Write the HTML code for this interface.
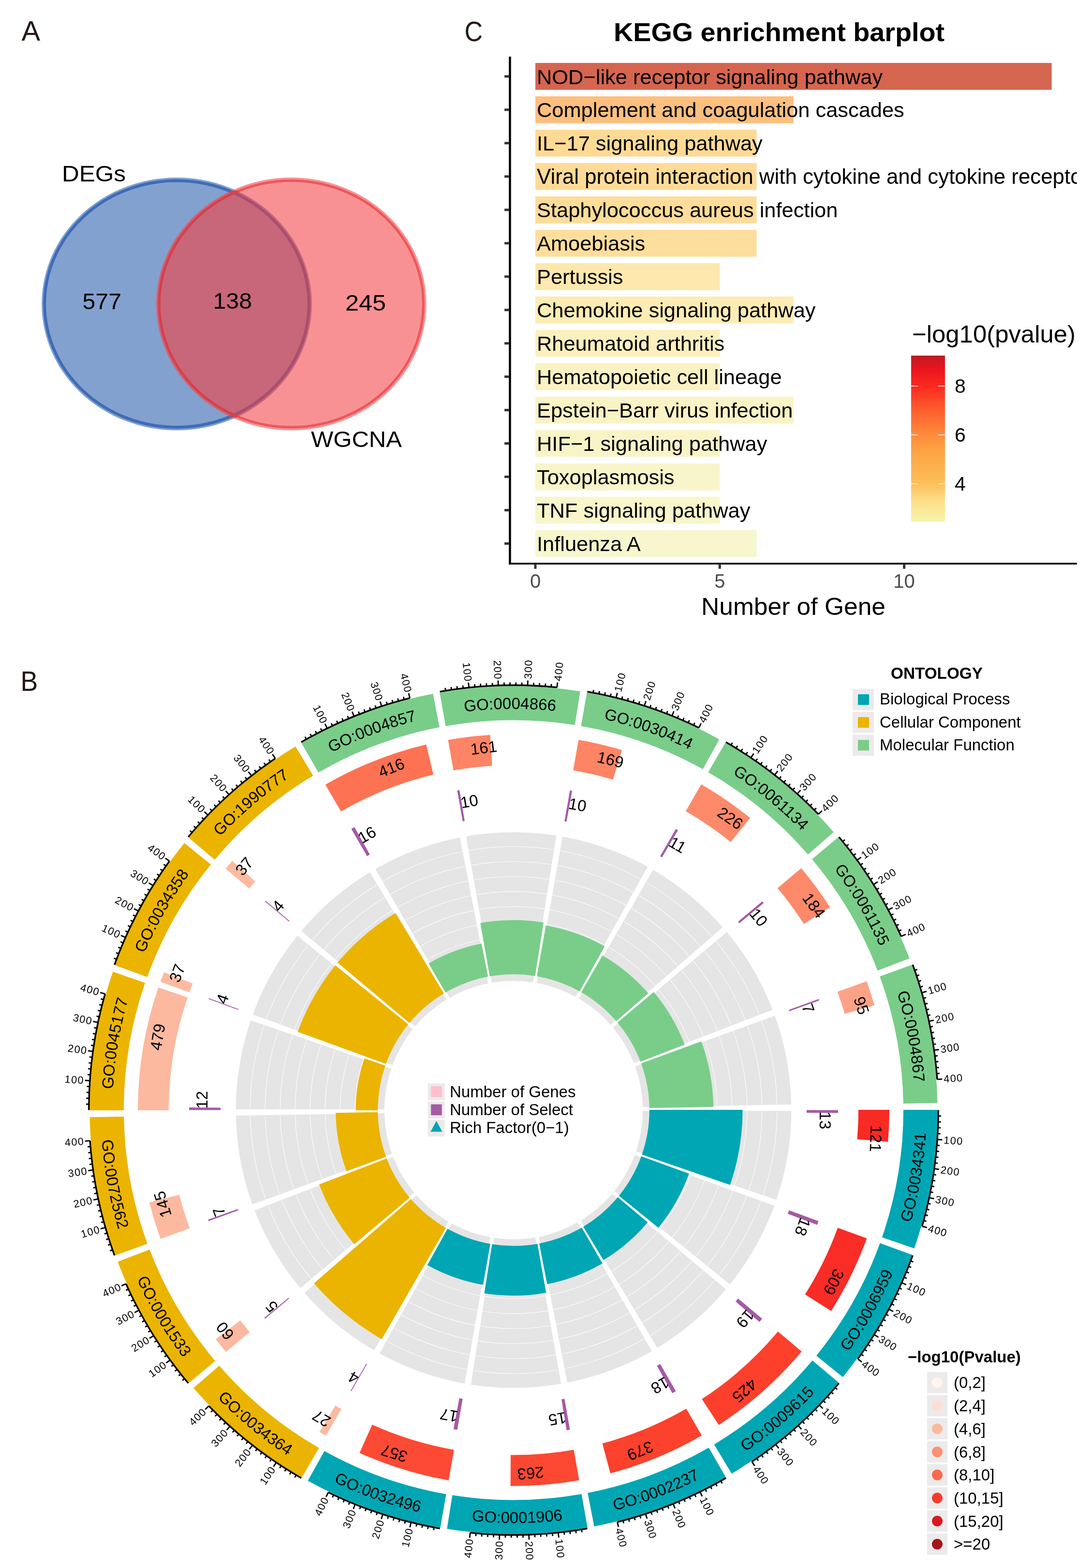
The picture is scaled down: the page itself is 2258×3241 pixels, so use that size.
<!DOCTYPE html><html><head><meta charset="utf-8"><title>Figure</title><style>html,body{margin:0;padding:0;background:#fff;}svg{display:block;}</style></head><body><svg width="2258" height="3241" viewBox="0 0 2258 3241" font-family="'Liberation Sans', Arial, Helvetica, sans-serif"><defs><path id="go0" d="M1808.66,2708.38 A853.70,853.70 0 0 0 1902.73,2146.26" fill="none"/><path id="go1" d="M1622.08,2938.80 A853.70,853.70 0 0 0 1902.73,2442.74" fill="none"/><path id="go2" d="M1367.94,3091.50 A853.70,853.70 0 0 0 1801.33,2721.35" fill="none"/><path id="go3" d="M1076.90,3148.07 A853.70,853.70 0 0 0 1610.75,2948.47" fill="none"/><path id="go4" d="M784.06,3101.69 A853.70,853.70 0 0 0 1353.98,3096.72" fill="none"/><path id="go5" d="M524.75,2957.95 A853.70,853.70 0 0 0 1062.00,3148.20" fill="none"/><path id="go6" d="M330.24,2734.19 A853.70,853.70 0 0 0 770.02,3096.72" fill="none"/><path id="go7" d="M223.98,2457.39 A853.70,853.70 0 0 0 513.25,2948.47" fill="none"/><path id="go8" d="M218.81,2160.95 A853.70,853.70 0 0 0 322.67,2721.35" fill="none"/><path id="go9" d="M245.30,2438.51 A829.30,829.30 0 0 1 336.68,1892.45" fill="none"/><path id="go10" d="M245.30,2150.49 A829.30,829.30 0 0 1 517.93,1668.62" fill="none"/><path id="go11" d="M343.81,1879.85 A829.30,829.30 0 0 1 764.81,1520.28" fill="none"/><path id="go12" d="M528.94,1659.22 A829.30,829.30 0 0 1 1047.53,1465.33" fill="none"/><path id="go13" d="M778.36,1515.21 A829.30,829.30 0 0 1 1331.99,1510.38" fill="none"/><path id="go14" d="M1062.00,1465.20 A829.30,829.30 0 0 1 1583.90,1650.01" fill="none"/><path id="go15" d="M1345.64,1515.21 A829.30,829.30 0 0 1 1772.85,1867.38" fill="none"/><path id="go16" d="M1595.06,1659.22 A829.30,829.30 0 0 1 1876.06,2136.26" fill="none"/><path id="go17" d="M1780.19,1879.85 A829.30,829.30 0 0 1 1881.09,2424.23" fill="none"/><clipPath id="cB"><ellipse cx="365.5" cy="628.25" rx="279.3" ry="261.25"/></clipPath><clipPath id="cR"><ellipse cx="602.3" cy="628.25" rx="279.3" ry="261.25"/></clipPath><clipPath id="kclip"><rect x="1057" y="100" width="1169.8" height="1063"/></clipPath><linearGradient id="cbar" x1="0" y1="1" x2="0" y2="0"><stop offset="0" stop-color="#F6F5AA"/><stop offset="0.12" stop-color="#FCE08B"/><stop offset="0.227" stop-color="#FDC05A"/><stop offset="0.42" stop-color="#FDA444"/><stop offset="0.52" stop-color="#FD8C3C"/><stop offset="0.67" stop-color="#FE5E2E"/><stop offset="0.815" stop-color="#FC2A1F"/><stop offset="0.92" stop-color="#E9141E"/><stop offset="1" stop-color="#BD1A25"/></linearGradient></defs><rect width="2258" height="3241" fill="#fff"/><ellipse cx="365.5" cy="628.25" rx="279.3" ry="261.25" fill="#83A1CF"/><ellipse cx="365.5" cy="628.25" rx="273.3" ry="254.75" fill="none" stroke="#3E6CB8" stroke-width="6"/><ellipse cx="602.3" cy="628.25" rx="279.3" ry="261.25" fill="#F89194"/><g clip-path="url(#cB)"><ellipse cx="602.3" cy="628.25" rx="279.3" ry="261.25" fill="#C8667A"/><ellipse cx="365.5" cy="628.25" rx="273.3" ry="254.75" fill="none" stroke="#AA4E6E" stroke-width="6" clip-path="url(#cR)"/></g><ellipse cx="602.3" cy="628.25" rx="273.1" ry="254.75" fill="none" stroke="#EC575A" stroke-width="5"/><g clip-path="url(#cB)"><ellipse cx="602.3" cy="628.25" rx="273.1" ry="254.75" fill="none" stroke="#D6404A" stroke-width="5"/></g><text x="170.5" y="638.75" font-size="46" textLength="80.5" lengthAdjust="spacingAndGlyphs">577</text><text x="440.5" y="637.5" font-size="46" textLength="80.5" lengthAdjust="spacingAndGlyphs">138</text><text x="714" y="641.9" font-size="46" textLength="84" lengthAdjust="spacingAndGlyphs">245</text><text x="128" y="375" font-size="46" textLength="132" lengthAdjust="spacingAndGlyphs">DEGs</text><text x="643" y="923.75" font-size="46" textLength="188" lengthAdjust="spacingAndGlyphs">WGCNA</text><g clip-path="url(#kclip)"><rect x="1107.0" y="130.10" width="1067.64" height="55.6" fill="#D6654F"/><rect x="1107.0" y="199.07" width="533.82" height="55.6" fill="#FDBF7E"/><rect x="1107.0" y="268.04" width="457.56" height="55.6" fill="#FEDA95"/><rect x="1107.0" y="337.01" width="457.56" height="55.6" fill="#FEDB97"/><rect x="1107.0" y="405.98" width="457.56" height="55.6" fill="#FEDC99"/><rect x="1107.0" y="474.95" width="457.56" height="55.6" fill="#FEDE9C"/><rect x="1107.0" y="543.92" width="381.30" height="55.6" fill="#FEE8AD"/><rect x="1107.0" y="612.89" width="533.82" height="55.6" fill="#FDECB4"/><rect x="1107.0" y="681.86" width="381.30" height="55.6" fill="#FCF0BE"/><rect x="1107.0" y="750.83" width="381.30" height="55.6" fill="#FAF2C3"/><rect x="1107.0" y="819.80" width="533.82" height="55.6" fill="#FAF3C6"/><rect x="1107.0" y="888.77" width="381.30" height="55.6" fill="#F9F4C8"/><rect x="1107.0" y="957.74" width="381.30" height="55.6" fill="#F8F5CA"/><rect x="1107.0" y="1026.71" width="381.30" height="55.6" fill="#F8F6CA"/><rect x="1107.0" y="1095.68" width="457.56" height="55.6" fill="#F7F6CD"/><text x="1110" y="173.50" font-size="43.4">NOD−like receptor signaling pathway</text><text x="1110" y="242.47" font-size="43.4">Complement and coagulation cascades</text><text x="1110" y="311.44" font-size="43.4">IL−17 signaling pathway</text><text x="1110" y="380.41" font-size="43.85">Viral protein interaction with cytokine and cytokine receptor</text><text x="1110" y="449.38" font-size="43.4">Staphylococcus aureus infection</text><text x="1110" y="518.35" font-size="43.4">Amoebiasis</text><text x="1110" y="587.32" font-size="43.4">Pertussis</text><text x="1110" y="656.29" font-size="43.4">Chemokine signaling pathway</text><text x="1110" y="725.26" font-size="43.4">Rheumatoid arthritis</text><text x="1110" y="794.23" font-size="43.4">Hematopoietic cell lineage</text><text x="1110" y="863.20" font-size="43.4">Epstein−Barr virus infection</text><text x="1110" y="932.17" font-size="43.4">HIF−1 signaling pathway</text><text x="1110" y="1001.14" font-size="43.4">Toxoplasmosis</text><text x="1110" y="1070.11" font-size="43.4">TNF signaling pathway</text><text x="1110" y="1139.08" font-size="43.4">Influenza A</text></g><line x1="1054.45" y1="116.9" x2="1054.45" y2="1166.7" stroke="#000" stroke-width="4.5"/><line x1="1052.2" y1="1165" x2="2226.8" y2="1165" stroke="#000" stroke-width="3.5"/><line x1="1043.1" y1="157.90" x2="1052.2" y2="157.90" stroke="#333" stroke-width="5"/><line x1="1043.1" y1="226.87" x2="1052.2" y2="226.87" stroke="#333" stroke-width="5"/><line x1="1043.1" y1="295.84" x2="1052.2" y2="295.84" stroke="#333" stroke-width="5"/><line x1="1043.1" y1="364.81" x2="1052.2" y2="364.81" stroke="#333" stroke-width="5"/><line x1="1043.1" y1="433.78" x2="1052.2" y2="433.78" stroke="#333" stroke-width="5"/><line x1="1043.1" y1="502.75" x2="1052.2" y2="502.75" stroke="#333" stroke-width="5"/><line x1="1043.1" y1="571.72" x2="1052.2" y2="571.72" stroke="#333" stroke-width="5"/><line x1="1043.1" y1="640.69" x2="1052.2" y2="640.69" stroke="#333" stroke-width="5"/><line x1="1043.1" y1="709.66" x2="1052.2" y2="709.66" stroke="#333" stroke-width="5"/><line x1="1043.1" y1="778.63" x2="1052.2" y2="778.63" stroke="#333" stroke-width="5"/><line x1="1043.1" y1="847.60" x2="1052.2" y2="847.60" stroke="#333" stroke-width="5"/><line x1="1043.1" y1="916.57" x2="1052.2" y2="916.57" stroke="#333" stroke-width="5"/><line x1="1043.1" y1="985.54" x2="1052.2" y2="985.54" stroke="#333" stroke-width="5"/><line x1="1043.1" y1="1054.51" x2="1052.2" y2="1054.51" stroke="#333" stroke-width="5"/><line x1="1043.1" y1="1123.48" x2="1052.2" y2="1123.48" stroke="#333" stroke-width="5"/><line x1="1107.00" y1="1166.7" x2="1107.00" y2="1175.7" stroke="#333" stroke-width="5"/><text x="1107.00" y="1215" font-size="40" fill="#4D4D4D" text-anchor="middle">0</text><line x1="1488.30" y1="1166.7" x2="1488.30" y2="1175.7" stroke="#333" stroke-width="5"/><text x="1488.30" y="1215" font-size="40" fill="#4D4D4D" text-anchor="middle">5</text><line x1="1869.60" y1="1166.7" x2="1869.60" y2="1175.7" stroke="#333" stroke-width="5"/><text x="1869.60" y="1215" font-size="40" fill="#4D4D4D" text-anchor="middle">10</text><text x="1450" y="1271.4" font-size="50" textLength="381" lengthAdjust="spacingAndGlyphs">Number of Gene</text><text x="1269" y="84.8" font-size="54.5" font-weight="bold" textLength="684" lengthAdjust="spacingAndGlyphs">KEGG enrichment barplot</text><rect x="1884" y="735" width="70" height="343.7" fill="url(#cbar)"/><line x1="1884" y1="797.8" x2="1898" y2="797.8" stroke="#fff" stroke-width="1.5"/><line x1="1940" y1="797.8" x2="1954" y2="797.8" stroke="#fff" stroke-width="1.5"/><text x="1974" y="812.10" font-size="41">8</text><line x1="1884" y1="898.7" x2="1898" y2="898.7" stroke="#fff" stroke-width="1.5"/><line x1="1940" y1="898.7" x2="1954" y2="898.7" stroke="#fff" stroke-width="1.5"/><text x="1974" y="913.00" font-size="41">6</text><line x1="1884" y1="999.8" x2="1898" y2="999.8" stroke="#fff" stroke-width="1.5"/><line x1="1940" y1="999.8" x2="1954" y2="999.8" stroke="#fff" stroke-width="1.5"/><text x="1974" y="1014.10" font-size="41">4</text><text x="1886" y="708.4" font-size="50.5" textLength="338" lengthAdjust="spacingAndGlyphs">−log10(pvalue)</text><path d="M1937.90,2294.50 A875.90,875.90 0 0 1 1890.18,2579.67 L1824.66,2557.10 A806.60,806.60 0 0 0 1868.60,2294.50 Z" fill="#00A6B3" stroke="#00A6B3" stroke-width="1.2"/><path d="M1885.08,2594.08 A875.90,875.90 0 0 1 1742.70,2845.72 L1688.85,2802.11 A806.60,806.60 0 0 0 1819.96,2570.37 Z" fill="#00A6B3" stroke="#00A6B3" stroke-width="1.2"/><path d="M1732.98,2857.52 A875.90,875.90 0 0 1 1513.12,3045.29 L1477.43,2985.89 A806.60,806.60 0 0 0 1679.89,2812.97 Z" fill="#00A6B3" stroke="#00A6B3" stroke-width="1.2"/><path d="M1499.95,3053.05 A875.90,875.90 0 0 1 1229.13,3154.31 L1215.91,3086.28 A806.60,806.60 0 0 0 1465.30,2993.04 Z" fill="#00A6B3" stroke="#00A6B3" stroke-width="1.2"/><path d="M1214.10,3157.09 A875.90,875.90 0 0 1 924.98,3159.62 L935.82,3091.17 A806.60,806.60 0 0 0 1202.06,3088.85 Z" fill="#00A6B3" stroke="#00A6B3" stroke-width="1.2"/><path d="M909.90,3157.09 A875.90,875.90 0 0 1 637.36,3060.58 L670.95,2999.97 A806.60,806.60 0 0 0 921.94,3088.85 Z" fill="#00A6B3" stroke="#00A6B3" stroke-width="1.2"/><path d="M624.05,3053.05 A875.90,875.90 0 0 1 400.95,2869.14 L453.25,2823.68 A806.60,806.60 0 0 0 658.70,2993.04 Z" fill="#EBB400" stroke="#EBB400" stroke-width="1.2"/><path d="M391.02,2857.52 A875.90,875.90 0 0 1 244.28,2608.39 L308.97,2583.56 A806.60,806.60 0 0 0 444.11,2812.97 Z" fill="#EBB400" stroke="#EBB400" stroke-width="1.2"/><path d="M238.92,2594.08 A875.90,875.90 0 0 1 186.23,2309.79 L255.52,2308.58 A806.60,806.60 0 0 0 304.04,2570.37 Z" fill="#EBB400" stroke="#EBB400" stroke-width="1.2"/><path d="M186.10,2294.50 A875.90,875.90 0 0 1 233.82,2009.33 L299.34,2031.90 A806.60,806.60 0 0 0 255.40,2294.50 Z" fill="#EBB400" stroke="#EBB400" stroke-width="1.2"/><path d="M238.92,1994.92 A875.90,875.90 0 0 1 381.30,1743.28 L435.15,1786.89 A806.60,806.60 0 0 0 304.04,2018.63 Z" fill="#EBB400" stroke="#EBB400" stroke-width="1.2"/><path d="M391.02,1731.48 A875.90,875.90 0 0 1 610.88,1543.71 L646.57,1603.11 A806.60,806.60 0 0 0 444.11,1776.03 Z" fill="#EBB400" stroke="#EBB400" stroke-width="1.2"/><path d="M624.05,1535.95 A875.90,875.90 0 0 1 894.87,1434.69 L908.09,1502.72 A806.60,806.60 0 0 0 658.70,1595.96 Z" fill="#79CD89" stroke="#79CD89" stroke-width="1.2"/><path d="M909.90,1431.91 A875.90,875.90 0 0 1 1199.02,1429.38 L1188.18,1497.83 A806.60,806.60 0 0 0 921.94,1500.15 Z" fill="#79CD89" stroke="#79CD89" stroke-width="1.2"/><path d="M1214.10,1431.91 A875.90,875.90 0 0 1 1486.64,1528.42 L1453.05,1589.03 A806.60,806.60 0 0 0 1202.06,1500.15 Z" fill="#79CD89" stroke="#79CD89" stroke-width="1.2"/><path d="M1499.95,1535.95 A875.90,875.90 0 0 1 1723.05,1719.86 L1670.75,1765.32 A806.60,806.60 0 0 0 1465.30,1595.96 Z" fill="#79CD89" stroke="#79CD89" stroke-width="1.2"/><path d="M1732.98,1731.48 A875.90,875.90 0 0 1 1879.72,1980.61 L1815.03,2005.44 A806.60,806.60 0 0 0 1679.89,1776.03 Z" fill="#79CD89" stroke="#79CD89" stroke-width="1.2"/><path d="M1885.08,1994.92 A875.90,875.90 0 0 1 1937.77,2279.21 L1868.48,2280.42 A806.60,806.60 0 0 0 1819.96,2018.63 Z" fill="#79CD89" stroke="#79CD89" stroke-width="1.2"/><path d="M1940.20,2294.50 A878.20,878.20 0 0 1 1906.74,2534.60" fill="none" stroke="#000" stroke-width="3.4"/><line x1="1940.12" y1="2306.66" x2="1945.92" y2="2306.74" stroke="#000" stroke-width="2.8"/><line x1="1939.86" y1="2318.82" x2="1945.66" y2="2318.98" stroke="#000" stroke-width="2.8"/><line x1="1939.44" y1="2330.97" x2="1945.24" y2="2331.21" stroke="#000" stroke-width="2.8"/><line x1="1938.85" y1="2343.11" x2="1944.64" y2="2343.43" stroke="#000" stroke-width="2.8"/><line x1="1938.10" y1="2355.25" x2="1948.37" y2="2355.96" stroke="#000" stroke-width="2.8"/><line x1="1937.17" y1="2367.37" x2="1942.95" y2="2367.85" stroke="#000" stroke-width="2.8"/><line x1="1936.08" y1="2379.48" x2="1941.85" y2="2380.05" stroke="#000" stroke-width="2.8"/><line x1="1934.82" y1="2391.58" x2="1940.58" y2="2392.22" stroke="#000" stroke-width="2.8"/><line x1="1933.39" y1="2403.65" x2="1939.15" y2="2404.37" stroke="#000" stroke-width="2.8"/><line x1="1931.80" y1="2415.71" x2="1942.00" y2="2417.13" stroke="#000" stroke-width="2.8"/><line x1="1930.03" y1="2427.74" x2="1935.77" y2="2428.62" stroke="#000" stroke-width="2.8"/><line x1="1928.11" y1="2439.74" x2="1933.83" y2="2440.70" stroke="#000" stroke-width="2.8"/><line x1="1926.01" y1="2451.72" x2="1931.72" y2="2452.76" stroke="#000" stroke-width="2.8"/><line x1="1923.75" y1="2463.67" x2="1929.44" y2="2464.79" stroke="#000" stroke-width="2.8"/><line x1="1921.33" y1="2475.59" x2="1931.41" y2="2477.71" stroke="#000" stroke-width="2.8"/><line x1="1918.74" y1="2487.47" x2="1924.40" y2="2488.74" stroke="#000" stroke-width="2.8"/><line x1="1915.98" y1="2499.31" x2="1921.62" y2="2500.66" stroke="#000" stroke-width="2.8"/><line x1="1913.07" y1="2511.11" x2="1918.69" y2="2512.54" stroke="#000" stroke-width="2.8"/><line x1="1909.99" y1="2522.88" x2="1915.59" y2="2524.38" stroke="#000" stroke-width="2.8"/><line x1="1906.74" y1="2534.60" x2="1916.65" y2="2537.41" stroke="#000" stroke-width="2.8"/><text transform="translate(1951.36,2356.17) rotate(3.97)" x="0" y="7.59" text-anchor="start" font-size="21.7" textLength="39" lengthAdjust="spacing">100</text><text transform="translate(1944.97,2417.54) rotate(7.93)" x="0" y="7.59" text-anchor="start" font-size="21.7" textLength="39" lengthAdjust="spacing">200</text><text transform="translate(1934.34,2478.33) rotate(11.90)" x="0" y="7.59" text-anchor="start" font-size="21.7" textLength="39" lengthAdjust="spacing">300</text><text transform="translate(1919.54,2538.23) rotate(15.87)" x="0" y="7.59" text-anchor="start" font-size="21.7" textLength="39" lengthAdjust="spacing">400</text><path d="M1887.24,2594.86 A878.20,878.20 0 0 1 1773.68,2809.03" fill="none" stroke="#000" stroke-width="3.4"/><line x1="1883.00" y1="2606.26" x2="1888.42" y2="2608.32" stroke="#000" stroke-width="2.8"/><line x1="1878.61" y1="2617.60" x2="1884.00" y2="2619.73" stroke="#000" stroke-width="2.8"/><line x1="1874.05" y1="2628.87" x2="1879.42" y2="2631.08" stroke="#000" stroke-width="2.8"/><line x1="1869.35" y1="2640.08" x2="1874.68" y2="2642.37" stroke="#000" stroke-width="2.8"/><line x1="1864.48" y1="2651.23" x2="1873.90" y2="2655.41" stroke="#000" stroke-width="2.8"/><line x1="1859.47" y1="2662.31" x2="1864.73" y2="2664.73" stroke="#000" stroke-width="2.8"/><line x1="1854.30" y1="2673.31" x2="1859.53" y2="2675.81" stroke="#000" stroke-width="2.8"/><line x1="1848.98" y1="2684.24" x2="1854.18" y2="2686.82" stroke="#000" stroke-width="2.8"/><line x1="1843.51" y1="2695.10" x2="1848.67" y2="2697.75" stroke="#000" stroke-width="2.8"/><line x1="1837.88" y1="2705.89" x2="1846.98" y2="2710.71" stroke="#000" stroke-width="2.8"/><line x1="1832.11" y1="2716.59" x2="1837.20" y2="2719.38" stroke="#000" stroke-width="2.8"/><line x1="1826.20" y1="2727.21" x2="1831.24" y2="2730.07" stroke="#000" stroke-width="2.8"/><line x1="1820.13" y1="2737.75" x2="1825.14" y2="2740.68" stroke="#000" stroke-width="2.8"/><line x1="1813.92" y1="2748.20" x2="1818.89" y2="2751.20" stroke="#000" stroke-width="2.8"/><line x1="1807.57" y1="2758.57" x2="1816.31" y2="2764.01" stroke="#000" stroke-width="2.8"/><line x1="1801.07" y1="2768.85" x2="1805.95" y2="2771.98" stroke="#000" stroke-width="2.8"/><line x1="1794.43" y1="2779.04" x2="1799.27" y2="2782.24" stroke="#000" stroke-width="2.8"/><line x1="1787.65" y1="2789.13" x2="1792.45" y2="2792.40" stroke="#000" stroke-width="2.8"/><line x1="1780.74" y1="2799.13" x2="1785.48" y2="2802.46" stroke="#000" stroke-width="2.8"/><line x1="1773.68" y1="2809.03" x2="1782.03" y2="2815.07" stroke="#000" stroke-width="2.8"/><text transform="translate(1876.64,2656.63) rotate(23.97)" x="0" y="7.59" text-anchor="start" font-size="21.7" textLength="39" lengthAdjust="spacing">100</text><text transform="translate(1849.64,2712.12) rotate(27.93)" x="0" y="7.59" text-anchor="start" font-size="21.7" textLength="39" lengthAdjust="spacing">200</text><text transform="translate(1818.86,2765.60) rotate(31.90)" x="0" y="7.59" text-anchor="start" font-size="21.7" textLength="39" lengthAdjust="spacing">300</text><text transform="translate(1784.46,2816.83) rotate(35.87)" x="0" y="7.59" text-anchor="start" font-size="21.7" textLength="39" lengthAdjust="spacing">400</text><path d="M1734.74,2859.00 A878.20,878.20 0 0 1 1554.78,3021.41" fill="none" stroke="#000" stroke-width="3.4"/><line x1="1726.86" y1="2868.26" x2="1731.25" y2="2872.05" stroke="#000" stroke-width="2.8"/><line x1="1718.85" y1="2877.41" x2="1723.19" y2="2881.26" stroke="#000" stroke-width="2.8"/><line x1="1710.72" y1="2886.45" x2="1715.00" y2="2890.35" stroke="#000" stroke-width="2.8"/><line x1="1702.46" y1="2895.37" x2="1706.69" y2="2899.34" stroke="#000" stroke-width="2.8"/><line x1="1694.08" y1="2904.18" x2="1701.49" y2="2911.33" stroke="#000" stroke-width="2.8"/><line x1="1685.58" y1="2912.87" x2="1689.70" y2="2916.96" stroke="#000" stroke-width="2.8"/><line x1="1676.96" y1="2921.45" x2="1681.02" y2="2925.59" stroke="#000" stroke-width="2.8"/><line x1="1668.22" y1="2929.90" x2="1672.22" y2="2934.10" stroke="#000" stroke-width="2.8"/><line x1="1659.36" y1="2938.24" x2="1663.31" y2="2942.49" stroke="#000" stroke-width="2.8"/><line x1="1650.39" y1="2946.44" x2="1657.29" y2="2954.09" stroke="#000" stroke-width="2.8"/><line x1="1641.31" y1="2954.53" x2="1645.13" y2="2958.89" stroke="#000" stroke-width="2.8"/><line x1="1632.11" y1="2962.49" x2="1635.88" y2="2966.90" stroke="#000" stroke-width="2.8"/><line x1="1622.81" y1="2970.32" x2="1626.51" y2="2974.78" stroke="#000" stroke-width="2.8"/><line x1="1613.40" y1="2978.02" x2="1617.04" y2="2982.53" stroke="#000" stroke-width="2.8"/><line x1="1603.88" y1="2985.58" x2="1610.24" y2="2993.69" stroke="#000" stroke-width="2.8"/><line x1="1594.26" y1="2993.02" x2="1597.78" y2="2997.63" stroke="#000" stroke-width="2.8"/><line x1="1584.54" y1="3000.32" x2="1587.99" y2="3004.98" stroke="#000" stroke-width="2.8"/><line x1="1574.72" y1="3007.49" x2="1578.10" y2="3012.20" stroke="#000" stroke-width="2.8"/><line x1="1564.80" y1="3014.52" x2="1568.12" y2="3019.28" stroke="#000" stroke-width="2.8"/><line x1="1554.78" y1="3021.41" x2="1560.56" y2="3029.94" stroke="#000" stroke-width="2.8"/><text transform="translate(1703.65,2913.41) rotate(43.97)" x="0" y="7.59" text-anchor="start" font-size="21.7" textLength="39" lengthAdjust="spacing">100</text><text transform="translate(1659.30,2956.32) rotate(47.93)" x="0" y="7.59" text-anchor="start" font-size="21.7" textLength="39" lengthAdjust="spacing">200</text><text transform="translate(1612.09,2996.05) rotate(51.90)" x="0" y="7.59" text-anchor="start" font-size="21.7" textLength="39" lengthAdjust="spacing">300</text><text transform="translate(1562.24,3032.42) rotate(55.87)" x="0" y="7.59" text-anchor="start" font-size="21.7" textLength="39" lengthAdjust="spacing">400</text><path d="M1501.10,3055.04 A878.20,878.20 0 0 1 1276.44,3146.12" fill="none" stroke="#000" stroke-width="3.4"/><line x1="1490.53" y1="3061.05" x2="1493.36" y2="3066.11" stroke="#000" stroke-width="2.8"/><line x1="1479.87" y1="3066.91" x2="1482.63" y2="3072.01" stroke="#000" stroke-width="2.8"/><line x1="1469.14" y1="3072.62" x2="1471.83" y2="3077.76" stroke="#000" stroke-width="2.8"/><line x1="1458.33" y1="3078.18" x2="1460.94" y2="3083.36" stroke="#000" stroke-width="2.8"/><line x1="1447.44" y1="3083.60" x2="1451.96" y2="3092.85" stroke="#000" stroke-width="2.8"/><line x1="1436.48" y1="3088.86" x2="1438.95" y2="3094.10" stroke="#000" stroke-width="2.8"/><line x1="1425.44" y1="3093.97" x2="1427.84" y2="3099.25" stroke="#000" stroke-width="2.8"/><line x1="1414.34" y1="3098.92" x2="1416.66" y2="3104.23" stroke="#000" stroke-width="2.8"/><line x1="1403.17" y1="3103.72" x2="1405.42" y2="3109.07" stroke="#000" stroke-width="2.8"/><line x1="1391.93" y1="3108.37" x2="1395.80" y2="3117.91" stroke="#000" stroke-width="2.8"/><line x1="1380.63" y1="3112.86" x2="1382.73" y2="3118.26" stroke="#000" stroke-width="2.8"/><line x1="1369.27" y1="3117.19" x2="1371.30" y2="3122.63" stroke="#000" stroke-width="2.8"/><line x1="1357.85" y1="3121.37" x2="1359.80" y2="3126.83" stroke="#000" stroke-width="2.8"/><line x1="1346.37" y1="3125.38" x2="1348.25" y2="3130.87" stroke="#000" stroke-width="2.8"/><line x1="1334.84" y1="3129.24" x2="1338.04" y2="3139.03" stroke="#000" stroke-width="2.8"/><line x1="1323.26" y1="3132.94" x2="1324.98" y2="3138.48" stroke="#000" stroke-width="2.8"/><line x1="1311.62" y1="3136.48" x2="1313.27" y2="3142.04" stroke="#000" stroke-width="2.8"/><line x1="1299.94" y1="3139.85" x2="1301.51" y2="3145.43" stroke="#000" stroke-width="2.8"/><line x1="1288.21" y1="3143.07" x2="1289.71" y2="3148.67" stroke="#000" stroke-width="2.8"/><line x1="1276.44" y1="3146.12" x2="1278.96" y2="3156.10" stroke="#000" stroke-width="2.8"/><text transform="translate(1453.27,3095.55) rotate(63.97)" x="0" y="7.59" text-anchor="start" font-size="21.7" textLength="39" lengthAdjust="spacing">100</text><text transform="translate(1396.93,3120.69) rotate(67.93)" x="0" y="7.59" text-anchor="start" font-size="21.7" textLength="39" lengthAdjust="spacing">200</text><text transform="translate(1338.97,3141.88) rotate(71.90)" x="0" y="7.59" text-anchor="start" font-size="21.7" textLength="39" lengthAdjust="spacing">300</text><text transform="translate(1279.69,3159.01) rotate(75.87)" x="0" y="7.59" text-anchor="start" font-size="21.7" textLength="39" lengthAdjust="spacing">400</text><path d="M1214.50,3159.36 A878.20,878.20 0 0 1 972.24,3168.10" fill="none" stroke="#000" stroke-width="3.4"/><line x1="1202.51" y1="3161.39" x2="1203.44" y2="3167.11" stroke="#000" stroke-width="2.8"/><line x1="1190.49" y1="3163.25" x2="1191.34" y2="3168.99" stroke="#000" stroke-width="2.8"/><line x1="1178.45" y1="3164.94" x2="1179.22" y2="3170.69" stroke="#000" stroke-width="2.8"/><line x1="1166.39" y1="3166.47" x2="1167.08" y2="3172.23" stroke="#000" stroke-width="2.8"/><line x1="1154.31" y1="3167.84" x2="1155.39" y2="3178.08" stroke="#000" stroke-width="2.8"/><line x1="1142.21" y1="3169.03" x2="1142.74" y2="3174.81" stroke="#000" stroke-width="2.8"/><line x1="1130.09" y1="3170.06" x2="1130.54" y2="3175.84" stroke="#000" stroke-width="2.8"/><line x1="1117.96" y1="3170.92" x2="1118.33" y2="3176.70" stroke="#000" stroke-width="2.8"/><line x1="1105.82" y1="3171.61" x2="1106.11" y2="3177.40" stroke="#000" stroke-width="2.8"/><line x1="1093.67" y1="3172.13" x2="1094.04" y2="3182.42" stroke="#000" stroke-width="2.8"/><line x1="1081.52" y1="3172.48" x2="1081.65" y2="3178.28" stroke="#000" stroke-width="2.8"/><line x1="1069.36" y1="3172.67" x2="1069.41" y2="3178.47" stroke="#000" stroke-width="2.8"/><line x1="1057.20" y1="3172.69" x2="1057.17" y2="3178.49" stroke="#000" stroke-width="2.8"/><line x1="1045.04" y1="3172.54" x2="1044.93" y2="3178.34" stroke="#000" stroke-width="2.8"/><line x1="1032.89" y1="3172.22" x2="1032.54" y2="3182.51" stroke="#000" stroke-width="2.8"/><line x1="1020.74" y1="3171.73" x2="1020.46" y2="3177.52" stroke="#000" stroke-width="2.8"/><line x1="1008.59" y1="3171.07" x2="1008.24" y2="3176.86" stroke="#000" stroke-width="2.8"/><line x1="996.46" y1="3170.25" x2="996.03" y2="3176.04" stroke="#000" stroke-width="2.8"/><line x1="984.34" y1="3169.26" x2="983.83" y2="3175.04" stroke="#000" stroke-width="2.8"/><line x1="972.24" y1="3168.10" x2="971.19" y2="3178.35" stroke="#000" stroke-width="2.8"/><text transform="translate(1155.70,3181.06) rotate(83.97)" x="0" y="7.59" text-anchor="start" font-size="21.7" textLength="39" lengthAdjust="spacing">100</text><text transform="translate(1094.15,3185.42) rotate(87.93)" x="0" y="7.59" text-anchor="start" font-size="21.7" textLength="39" lengthAdjust="spacing">200</text><text transform="translate(1032.45,3185.51) rotate(271.90)" x="0" y="7.59" text-anchor="end" font-size="21.7" textLength="39" lengthAdjust="spacing">300</text><text transform="translate(970.88,3181.33) rotate(275.87)" x="0" y="7.59" text-anchor="end" font-size="21.7" textLength="39" lengthAdjust="spacing">400</text><path d="M909.50,3159.36 A878.20,878.20 0 0 1 678.86,3084.72" fill="none" stroke="#000" stroke-width="3.4"/><line x1="897.54" y1="3157.16" x2="896.46" y2="3162.86" stroke="#000" stroke-width="2.8"/><line x1="885.61" y1="3154.80" x2="884.45" y2="3160.49" stroke="#000" stroke-width="2.8"/><line x1="873.72" y1="3152.28" x2="872.48" y2="3157.94" stroke="#000" stroke-width="2.8"/><line x1="861.86" y1="3149.59" x2="860.54" y2="3155.24" stroke="#000" stroke-width="2.8"/><line x1="850.04" y1="3146.74" x2="847.56" y2="3156.73" stroke="#000" stroke-width="2.8"/><line x1="838.26" y1="3143.72" x2="836.78" y2="3149.33" stroke="#000" stroke-width="2.8"/><line x1="826.53" y1="3140.54" x2="824.97" y2="3146.13" stroke="#000" stroke-width="2.8"/><line x1="814.83" y1="3137.20" x2="813.20" y2="3142.77" stroke="#000" stroke-width="2.8"/><line x1="803.19" y1="3133.70" x2="801.48" y2="3139.24" stroke="#000" stroke-width="2.8"/><line x1="791.60" y1="3130.03" x2="788.42" y2="3139.83" stroke="#000" stroke-width="2.8"/><line x1="780.05" y1="3126.21" x2="778.19" y2="3131.70" stroke="#000" stroke-width="2.8"/><line x1="768.56" y1="3122.23" x2="766.63" y2="3127.69" stroke="#000" stroke-width="2.8"/><line x1="757.13" y1="3118.08" x2="755.12" y2="3123.52" stroke="#000" stroke-width="2.8"/><line x1="745.76" y1="3113.78" x2="743.67" y2="3119.19" stroke="#000" stroke-width="2.8"/><line x1="734.45" y1="3109.33" x2="730.60" y2="3118.88" stroke="#000" stroke-width="2.8"/><line x1="723.19" y1="3104.71" x2="720.96" y2="3110.06" stroke="#000" stroke-width="2.8"/><line x1="712.01" y1="3099.95" x2="709.70" y2="3105.26" stroke="#000" stroke-width="2.8"/><line x1="700.89" y1="3095.02" x2="698.51" y2="3100.31" stroke="#000" stroke-width="2.8"/><line x1="689.84" y1="3089.95" x2="687.38" y2="3095.20" stroke="#000" stroke-width="2.8"/><line x1="678.86" y1="3084.72" x2="674.37" y2="3093.98" stroke="#000" stroke-width="2.8"/><text transform="translate(846.83,3159.64) rotate(283.97)" x="0" y="7.59" text-anchor="end" font-size="21.7" textLength="39" lengthAdjust="spacing">100</text><text transform="translate(787.50,3142.69) rotate(287.93)" x="0" y="7.59" text-anchor="end" font-size="21.7" textLength="39" lengthAdjust="spacing">200</text><text transform="translate(729.48,3121.67) rotate(291.90)" x="0" y="7.59" text-anchor="end" font-size="21.7" textLength="39" lengthAdjust="spacing">300</text><text transform="translate(673.06,3096.68) rotate(295.87)" x="0" y="7.59" text-anchor="end" font-size="21.7" textLength="39" lengthAdjust="spacing">400</text><path d="M622.90,3055.04 A878.20,878.20 0 0 1 431.70,2906.02" fill="none" stroke="#000" stroke-width="3.4"/><line x1="612.41" y1="3048.89" x2="609.44" y2="3053.87" stroke="#000" stroke-width="2.8"/><line x1="602.01" y1="3042.59" x2="598.97" y2="3047.53" stroke="#000" stroke-width="2.8"/><line x1="591.70" y1="3036.15" x2="588.59" y2="3041.05" stroke="#000" stroke-width="2.8"/><line x1="581.47" y1="3029.57" x2="578.30" y2="3034.43" stroke="#000" stroke-width="2.8"/><line x1="571.34" y1="3022.85" x2="565.59" y2="3031.39" stroke="#000" stroke-width="2.8"/><line x1="561.30" y1="3015.98" x2="558.00" y2="3020.75" stroke="#000" stroke-width="2.8"/><line x1="551.36" y1="3008.98" x2="547.99" y2="3013.70" stroke="#000" stroke-width="2.8"/><line x1="541.52" y1="3001.84" x2="538.08" y2="3006.52" stroke="#000" stroke-width="2.8"/><line x1="531.78" y1="2994.57" x2="528.27" y2="2999.19" stroke="#000" stroke-width="2.8"/><line x1="522.13" y1="2987.16" x2="515.80" y2="2995.28" stroke="#000" stroke-width="2.8"/><line x1="512.59" y1="2979.62" x2="508.97" y2="2984.14" stroke="#000" stroke-width="2.8"/><line x1="503.16" y1="2971.95" x2="499.47" y2="2976.42" stroke="#000" stroke-width="2.8"/><line x1="493.84" y1="2964.14" x2="490.08" y2="2968.57" stroke="#000" stroke-width="2.8"/><line x1="484.62" y1="2956.21" x2="480.81" y2="2960.58" stroke="#000" stroke-width="2.8"/><line x1="475.51" y1="2948.16" x2="468.63" y2="2955.82" stroke="#000" stroke-width="2.8"/><line x1="466.52" y1="2939.97" x2="462.58" y2="2944.24" stroke="#000" stroke-width="2.8"/><line x1="457.64" y1="2931.67" x2="453.65" y2="2935.88" stroke="#000" stroke-width="2.8"/><line x1="448.87" y1="2923.24" x2="444.82" y2="2927.39" stroke="#000" stroke-width="2.8"/><line x1="440.23" y1="2914.69" x2="436.12" y2="2918.78" stroke="#000" stroke-width="2.8"/><line x1="431.70" y1="2906.02" x2="424.31" y2="2913.19" stroke="#000" stroke-width="2.8"/><text transform="translate(563.91,3033.88) rotate(303.97)" x="0" y="7.59" text-anchor="end" font-size="21.7" textLength="39" lengthAdjust="spacing">100</text><text transform="translate(513.96,2997.65) rotate(307.93)" x="0" y="7.59" text-anchor="end" font-size="21.7" textLength="39" lengthAdjust="spacing">200</text><text transform="translate(466.63,2958.06) rotate(311.90)" x="0" y="7.59" text-anchor="end" font-size="21.7" textLength="39" lengthAdjust="spacing">300</text><text transform="translate(422.15,2915.28) rotate(315.87)" x="0" y="7.59" text-anchor="end" font-size="21.7" textLength="39" lengthAdjust="spacing">400</text><path d="M389.26,2859.00 A878.20,878.20 0 0 1 260.56,2653.57" fill="none" stroke="#000" stroke-width="3.4"/><line x1="381.51" y1="2849.63" x2="377.01" y2="2853.29" stroke="#000" stroke-width="2.8"/><line x1="373.89" y1="2840.15" x2="369.34" y2="2843.76" stroke="#000" stroke-width="2.8"/><line x1="366.40" y1="2830.57" x2="361.80" y2="2834.11" stroke="#000" stroke-width="2.8"/><line x1="359.04" y1="2820.89" x2="354.40" y2="2824.37" stroke="#000" stroke-width="2.8"/><line x1="351.82" y1="2811.11" x2="343.49" y2="2817.17" stroke="#000" stroke-width="2.8"/><line x1="344.74" y1="2801.22" x2="340.00" y2="2804.57" stroke="#000" stroke-width="2.8"/><line x1="337.79" y1="2791.25" x2="333.01" y2="2794.53" stroke="#000" stroke-width="2.8"/><line x1="330.98" y1="2781.17" x2="326.15" y2="2784.38" stroke="#000" stroke-width="2.8"/><line x1="324.31" y1="2771.00" x2="319.44" y2="2774.15" stroke="#000" stroke-width="2.8"/><line x1="317.79" y1="2760.74" x2="309.06" y2="2766.21" stroke="#000" stroke-width="2.8"/><line x1="311.40" y1="2750.39" x2="306.45" y2="2753.41" stroke="#000" stroke-width="2.8"/><line x1="305.16" y1="2739.96" x2="300.16" y2="2742.90" stroke="#000" stroke-width="2.8"/><line x1="299.07" y1="2729.44" x2="294.03" y2="2732.31" stroke="#000" stroke-width="2.8"/><line x1="293.12" y1="2718.83" x2="288.04" y2="2721.63" stroke="#000" stroke-width="2.8"/><line x1="287.32" y1="2708.15" x2="278.23" y2="2713.00" stroke="#000" stroke-width="2.8"/><line x1="281.66" y1="2697.38" x2="276.51" y2="2700.04" stroke="#000" stroke-width="2.8"/><line x1="276.16" y1="2686.54" x2="270.97" y2="2689.13" stroke="#000" stroke-width="2.8"/><line x1="270.81" y1="2675.62" x2="265.58" y2="2678.14" stroke="#000" stroke-width="2.8"/><line x1="265.61" y1="2664.63" x2="260.35" y2="2667.07" stroke="#000" stroke-width="2.8"/><line x1="260.56" y1="2653.57" x2="251.16" y2="2657.78" stroke="#000" stroke-width="2.8"/><text transform="translate(341.07,2818.93) rotate(323.97)" x="0" y="7.59" text-anchor="end" font-size="21.7" textLength="39" lengthAdjust="spacing">100</text><text transform="translate(306.52,2767.80) rotate(327.93)" x="0" y="7.59" text-anchor="end" font-size="21.7" textLength="39" lengthAdjust="spacing">200</text><text transform="translate(275.59,2714.41) rotate(331.90)" x="0" y="7.59" text-anchor="end" font-size="21.7" textLength="39" lengthAdjust="spacing">300</text><text transform="translate(248.42,2659.00) rotate(335.87)" x="0" y="7.59" text-anchor="end" font-size="21.7" textLength="39" lengthAdjust="spacing">400</text><path d="M236.76,2594.86 A878.20,878.20 0 0 1 186.08,2357.80" fill="none" stroke="#000" stroke-width="3.4"/><line x1="232.68" y1="2583.41" x2="227.21" y2="2585.32" stroke="#000" stroke-width="2.8"/><line x1="228.76" y1="2571.90" x2="223.26" y2="2573.73" stroke="#000" stroke-width="2.8"/><line x1="225.00" y1="2560.33" x2="219.47" y2="2562.09" stroke="#000" stroke-width="2.8"/><line x1="221.40" y1="2548.72" x2="215.85" y2="2550.40" stroke="#000" stroke-width="2.8"/><line x1="217.96" y1="2537.06" x2="208.06" y2="2539.90" stroke="#000" stroke-width="2.8"/><line x1="214.68" y1="2525.35" x2="209.09" y2="2526.87" stroke="#000" stroke-width="2.8"/><line x1="211.57" y1="2513.59" x2="205.95" y2="2515.04" stroke="#000" stroke-width="2.8"/><line x1="208.62" y1="2501.80" x2="202.98" y2="2503.17" stroke="#000" stroke-width="2.8"/><line x1="205.83" y1="2489.96" x2="200.17" y2="2491.25" stroke="#000" stroke-width="2.8"/><line x1="203.20" y1="2478.09" x2="193.13" y2="2480.24" stroke="#000" stroke-width="2.8"/><line x1="200.74" y1="2466.18" x2="195.06" y2="2467.32" stroke="#000" stroke-width="2.8"/><line x1="198.45" y1="2454.24" x2="192.75" y2="2455.30" stroke="#000" stroke-width="2.8"/><line x1="196.32" y1="2442.27" x2="190.60" y2="2443.24" stroke="#000" stroke-width="2.8"/><line x1="194.36" y1="2430.27" x2="188.63" y2="2431.17" stroke="#000" stroke-width="2.8"/><line x1="192.56" y1="2418.24" x2="182.36" y2="2419.69" stroke="#000" stroke-width="2.8"/><line x1="190.93" y1="2406.19" x2="185.18" y2="2406.93" stroke="#000" stroke-width="2.8"/><line x1="189.47" y1="2394.12" x2="183.71" y2="2394.78" stroke="#000" stroke-width="2.8"/><line x1="188.17" y1="2382.03" x2="182.40" y2="2382.61" stroke="#000" stroke-width="2.8"/><line x1="187.04" y1="2369.92" x2="181.27" y2="2370.42" stroke="#000" stroke-width="2.8"/><line x1="186.08" y1="2357.80" x2="175.81" y2="2358.55" stroke="#000" stroke-width="2.8"/><text transform="translate(205.18,2540.73) rotate(343.97)" x="0" y="7.59" text-anchor="end" font-size="21.7" textLength="39" lengthAdjust="spacing">100</text><text transform="translate(190.20,2480.87) rotate(347.93)" x="0" y="7.59" text-anchor="end" font-size="21.7" textLength="39" lengthAdjust="spacing">200</text><text transform="translate(179.39,2420.12) rotate(351.90)" x="0" y="7.59" text-anchor="end" font-size="21.7" textLength="39" lengthAdjust="spacing">300</text><text transform="translate(172.82,2358.76) rotate(355.87)" x="0" y="7.59" text-anchor="end" font-size="21.7" textLength="39" lengthAdjust="spacing">400</text><path d="M183.80,2294.50 A878.20,878.20 0 0 1 217.26,2054.40" fill="none" stroke="#000" stroke-width="3.4"/><line x1="183.88" y1="2282.34" x2="178.08" y2="2282.26" stroke="#000" stroke-width="2.8"/><line x1="184.14" y1="2270.18" x2="178.34" y2="2270.02" stroke="#000" stroke-width="2.8"/><line x1="184.56" y1="2258.03" x2="178.76" y2="2257.79" stroke="#000" stroke-width="2.8"/><line x1="185.15" y1="2245.89" x2="179.36" y2="2245.57" stroke="#000" stroke-width="2.8"/><line x1="185.90" y1="2233.75" x2="175.63" y2="2233.04" stroke="#000" stroke-width="2.8"/><line x1="186.83" y1="2221.63" x2="181.05" y2="2221.15" stroke="#000" stroke-width="2.8"/><line x1="187.92" y1="2209.52" x2="182.15" y2="2208.95" stroke="#000" stroke-width="2.8"/><line x1="189.18" y1="2197.42" x2="183.42" y2="2196.78" stroke="#000" stroke-width="2.8"/><line x1="190.61" y1="2185.35" x2="184.85" y2="2184.63" stroke="#000" stroke-width="2.8"/><line x1="192.20" y1="2173.29" x2="182.00" y2="2171.87" stroke="#000" stroke-width="2.8"/><line x1="193.97" y1="2161.26" x2="188.23" y2="2160.38" stroke="#000" stroke-width="2.8"/><line x1="195.89" y1="2149.26" x2="190.17" y2="2148.30" stroke="#000" stroke-width="2.8"/><line x1="197.99" y1="2137.28" x2="192.28" y2="2136.24" stroke="#000" stroke-width="2.8"/><line x1="200.25" y1="2125.33" x2="194.56" y2="2124.21" stroke="#000" stroke-width="2.8"/><line x1="202.67" y1="2113.41" x2="192.59" y2="2111.29" stroke="#000" stroke-width="2.8"/><line x1="205.26" y1="2101.53" x2="199.60" y2="2100.26" stroke="#000" stroke-width="2.8"/><line x1="208.02" y1="2089.69" x2="202.38" y2="2088.34" stroke="#000" stroke-width="2.8"/><line x1="210.93" y1="2077.89" x2="205.31" y2="2076.46" stroke="#000" stroke-width="2.8"/><line x1="214.01" y1="2066.12" x2="208.41" y2="2064.62" stroke="#000" stroke-width="2.8"/><line x1="217.26" y1="2054.40" x2="207.35" y2="2051.59" stroke="#000" stroke-width="2.8"/><text transform="translate(172.64,2232.83) rotate(363.97)" x="0" y="7.59" text-anchor="end" font-size="21.7" textLength="39" lengthAdjust="spacing">100</text><text transform="translate(179.03,2171.46) rotate(367.93)" x="0" y="7.59" text-anchor="end" font-size="21.7" textLength="39" lengthAdjust="spacing">200</text><text transform="translate(189.66,2110.67) rotate(371.90)" x="0" y="7.59" text-anchor="end" font-size="21.7" textLength="39" lengthAdjust="spacing">300</text><text transform="translate(204.46,2050.77) rotate(375.87)" x="0" y="7.59" text-anchor="end" font-size="21.7" textLength="39" lengthAdjust="spacing">400</text><path d="M236.76,1994.14 A878.20,878.20 0 0 1 350.32,1779.97" fill="none" stroke="#000" stroke-width="3.4"/><line x1="241.00" y1="1982.74" x2="235.58" y2="1980.68" stroke="#000" stroke-width="2.8"/><line x1="245.39" y1="1971.40" x2="240.00" y2="1969.27" stroke="#000" stroke-width="2.8"/><line x1="249.95" y1="1960.13" x2="244.58" y2="1957.92" stroke="#000" stroke-width="2.8"/><line x1="254.65" y1="1948.92" x2="249.32" y2="1946.63" stroke="#000" stroke-width="2.8"/><line x1="259.52" y1="1937.77" x2="250.10" y2="1933.59" stroke="#000" stroke-width="2.8"/><line x1="264.53" y1="1926.69" x2="259.27" y2="1924.27" stroke="#000" stroke-width="2.8"/><line x1="269.70" y1="1915.69" x2="264.47" y2="1913.19" stroke="#000" stroke-width="2.8"/><line x1="275.02" y1="1904.76" x2="269.82" y2="1902.18" stroke="#000" stroke-width="2.8"/><line x1="280.49" y1="1893.90" x2="275.33" y2="1891.25" stroke="#000" stroke-width="2.8"/><line x1="286.12" y1="1883.11" x2="277.02" y2="1878.29" stroke="#000" stroke-width="2.8"/><line x1="291.89" y1="1872.41" x2="286.80" y2="1869.62" stroke="#000" stroke-width="2.8"/><line x1="297.80" y1="1861.79" x2="292.76" y2="1858.93" stroke="#000" stroke-width="2.8"/><line x1="303.87" y1="1851.25" x2="298.86" y2="1848.32" stroke="#000" stroke-width="2.8"/><line x1="310.08" y1="1840.80" x2="305.11" y2="1837.80" stroke="#000" stroke-width="2.8"/><line x1="316.43" y1="1830.43" x2="307.69" y2="1824.99" stroke="#000" stroke-width="2.8"/><line x1="322.93" y1="1820.15" x2="318.05" y2="1817.02" stroke="#000" stroke-width="2.8"/><line x1="329.57" y1="1809.96" x2="324.73" y2="1806.76" stroke="#000" stroke-width="2.8"/><line x1="336.35" y1="1799.87" x2="331.55" y2="1796.60" stroke="#000" stroke-width="2.8"/><line x1="343.26" y1="1789.87" x2="338.52" y2="1786.54" stroke="#000" stroke-width="2.8"/><line x1="350.32" y1="1779.97" x2="341.97" y2="1773.93" stroke="#000" stroke-width="2.8"/><text transform="translate(247.36,1932.37) rotate(383.97)" x="0" y="7.59" text-anchor="end" font-size="21.7" textLength="39" lengthAdjust="spacing">100</text><text transform="translate(274.36,1876.88) rotate(387.93)" x="0" y="7.59" text-anchor="end" font-size="21.7" textLength="39" lengthAdjust="spacing">200</text><text transform="translate(305.14,1823.40) rotate(391.90)" x="0" y="7.59" text-anchor="end" font-size="21.7" textLength="39" lengthAdjust="spacing">300</text><text transform="translate(339.54,1772.17) rotate(395.87)" x="0" y="7.59" text-anchor="end" font-size="21.7" textLength="39" lengthAdjust="spacing">400</text><path d="M389.26,1730.00 A878.20,878.20 0 0 1 569.22,1567.59" fill="none" stroke="#000" stroke-width="3.4"/><line x1="397.14" y1="1720.74" x2="392.75" y2="1716.95" stroke="#000" stroke-width="2.8"/><line x1="405.15" y1="1711.59" x2="400.81" y2="1707.74" stroke="#000" stroke-width="2.8"/><line x1="413.28" y1="1702.55" x2="409.00" y2="1698.65" stroke="#000" stroke-width="2.8"/><line x1="421.54" y1="1693.63" x2="417.31" y2="1689.66" stroke="#000" stroke-width="2.8"/><line x1="429.92" y1="1684.82" x2="422.51" y2="1677.67" stroke="#000" stroke-width="2.8"/><line x1="438.42" y1="1676.13" x2="434.30" y2="1672.04" stroke="#000" stroke-width="2.8"/><line x1="447.04" y1="1667.55" x2="442.98" y2="1663.41" stroke="#000" stroke-width="2.8"/><line x1="455.78" y1="1659.10" x2="451.78" y2="1654.90" stroke="#000" stroke-width="2.8"/><line x1="464.64" y1="1650.76" x2="460.69" y2="1646.51" stroke="#000" stroke-width="2.8"/><line x1="473.61" y1="1642.56" x2="466.71" y2="1634.91" stroke="#000" stroke-width="2.8"/><line x1="482.69" y1="1634.47" x2="478.87" y2="1630.11" stroke="#000" stroke-width="2.8"/><line x1="491.89" y1="1626.51" x2="488.12" y2="1622.10" stroke="#000" stroke-width="2.8"/><line x1="501.19" y1="1618.68" x2="497.49" y2="1614.22" stroke="#000" stroke-width="2.8"/><line x1="510.60" y1="1610.98" x2="506.96" y2="1606.47" stroke="#000" stroke-width="2.8"/><line x1="520.12" y1="1603.42" x2="513.76" y2="1595.31" stroke="#000" stroke-width="2.8"/><line x1="529.74" y1="1595.98" x2="526.22" y2="1591.37" stroke="#000" stroke-width="2.8"/><line x1="539.46" y1="1588.68" x2="536.01" y2="1584.02" stroke="#000" stroke-width="2.8"/><line x1="549.28" y1="1581.51" x2="545.90" y2="1576.80" stroke="#000" stroke-width="2.8"/><line x1="559.20" y1="1574.48" x2="555.88" y2="1569.72" stroke="#000" stroke-width="2.8"/><line x1="569.22" y1="1567.59" x2="563.44" y2="1559.06" stroke="#000" stroke-width="2.8"/><text transform="translate(420.35,1675.59) rotate(403.97)" x="0" y="7.59" text-anchor="end" font-size="21.7" textLength="39" lengthAdjust="spacing">100</text><text transform="translate(464.70,1632.68) rotate(407.93)" x="0" y="7.59" text-anchor="end" font-size="21.7" textLength="39" lengthAdjust="spacing">200</text><text transform="translate(511.91,1592.95) rotate(411.90)" x="0" y="7.59" text-anchor="end" font-size="21.7" textLength="39" lengthAdjust="spacing">300</text><text transform="translate(561.76,1556.58) rotate(415.87)" x="0" y="7.59" text-anchor="end" font-size="21.7" textLength="39" lengthAdjust="spacing">400</text><path d="M622.90,1533.96 A878.20,878.20 0 0 1 847.56,1442.88" fill="none" stroke="#000" stroke-width="3.4"/><line x1="633.47" y1="1527.95" x2="630.64" y2="1522.89" stroke="#000" stroke-width="2.8"/><line x1="644.13" y1="1522.09" x2="641.37" y2="1516.99" stroke="#000" stroke-width="2.8"/><line x1="654.86" y1="1516.38" x2="652.17" y2="1511.24" stroke="#000" stroke-width="2.8"/><line x1="665.67" y1="1510.82" x2="663.06" y2="1505.64" stroke="#000" stroke-width="2.8"/><line x1="676.56" y1="1505.40" x2="672.04" y2="1496.15" stroke="#000" stroke-width="2.8"/><line x1="687.52" y1="1500.14" x2="685.05" y2="1494.90" stroke="#000" stroke-width="2.8"/><line x1="698.56" y1="1495.03" x2="696.16" y2="1489.75" stroke="#000" stroke-width="2.8"/><line x1="709.66" y1="1490.08" x2="707.34" y2="1484.77" stroke="#000" stroke-width="2.8"/><line x1="720.83" y1="1485.28" x2="718.58" y2="1479.93" stroke="#000" stroke-width="2.8"/><line x1="732.07" y1="1480.63" x2="728.20" y2="1471.09" stroke="#000" stroke-width="2.8"/><line x1="743.37" y1="1476.14" x2="741.27" y2="1470.74" stroke="#000" stroke-width="2.8"/><line x1="754.73" y1="1471.81" x2="752.70" y2="1466.37" stroke="#000" stroke-width="2.8"/><line x1="766.15" y1="1467.63" x2="764.20" y2="1462.17" stroke="#000" stroke-width="2.8"/><line x1="777.63" y1="1463.62" x2="775.75" y2="1458.13" stroke="#000" stroke-width="2.8"/><line x1="789.16" y1="1459.76" x2="785.96" y2="1449.97" stroke="#000" stroke-width="2.8"/><line x1="800.74" y1="1456.06" x2="799.02" y2="1450.52" stroke="#000" stroke-width="2.8"/><line x1="812.38" y1="1452.52" x2="810.73" y2="1446.96" stroke="#000" stroke-width="2.8"/><line x1="824.06" y1="1449.15" x2="822.49" y2="1443.57" stroke="#000" stroke-width="2.8"/><line x1="835.79" y1="1445.93" x2="834.29" y2="1440.33" stroke="#000" stroke-width="2.8"/><line x1="847.56" y1="1442.88" x2="845.04" y2="1432.90" stroke="#000" stroke-width="2.8"/><text transform="translate(670.73,1493.45) rotate(423.97)" x="0" y="7.59" text-anchor="end" font-size="21.7" textLength="39" lengthAdjust="spacing">100</text><text transform="translate(727.07,1468.31) rotate(427.93)" x="0" y="7.59" text-anchor="end" font-size="21.7" textLength="39" lengthAdjust="spacing">200</text><text transform="translate(785.03,1447.12) rotate(431.90)" x="0" y="7.59" text-anchor="end" font-size="21.7" textLength="39" lengthAdjust="spacing">300</text><text transform="translate(844.31,1429.99) rotate(435.87)" x="0" y="7.59" text-anchor="end" font-size="21.7" textLength="39" lengthAdjust="spacing">400</text><path d="M909.50,1429.64 A878.20,878.20 0 0 1 1151.76,1420.90" fill="none" stroke="#000" stroke-width="3.4"/><line x1="921.49" y1="1427.61" x2="920.56" y2="1421.89" stroke="#000" stroke-width="2.8"/><line x1="933.51" y1="1425.75" x2="932.66" y2="1420.01" stroke="#000" stroke-width="2.8"/><line x1="945.55" y1="1424.06" x2="944.78" y2="1418.31" stroke="#000" stroke-width="2.8"/><line x1="957.61" y1="1422.53" x2="956.92" y2="1416.77" stroke="#000" stroke-width="2.8"/><line x1="969.69" y1="1421.16" x2="968.61" y2="1410.92" stroke="#000" stroke-width="2.8"/><line x1="981.79" y1="1419.97" x2="981.26" y2="1414.19" stroke="#000" stroke-width="2.8"/><line x1="993.91" y1="1418.94" x2="993.46" y2="1413.16" stroke="#000" stroke-width="2.8"/><line x1="1006.04" y1="1418.08" x2="1005.67" y2="1412.30" stroke="#000" stroke-width="2.8"/><line x1="1018.18" y1="1417.39" x2="1017.89" y2="1411.60" stroke="#000" stroke-width="2.8"/><line x1="1030.33" y1="1416.87" x2="1029.96" y2="1406.58" stroke="#000" stroke-width="2.8"/><line x1="1042.48" y1="1416.52" x2="1042.35" y2="1410.72" stroke="#000" stroke-width="2.8"/><line x1="1054.64" y1="1416.33" x2="1054.59" y2="1410.53" stroke="#000" stroke-width="2.8"/><line x1="1066.80" y1="1416.31" x2="1066.83" y2="1410.51" stroke="#000" stroke-width="2.8"/><line x1="1078.96" y1="1416.46" x2="1079.07" y2="1410.66" stroke="#000" stroke-width="2.8"/><line x1="1091.11" y1="1416.78" x2="1091.46" y2="1406.49" stroke="#000" stroke-width="2.8"/><line x1="1103.26" y1="1417.27" x2="1103.54" y2="1411.48" stroke="#000" stroke-width="2.8"/><line x1="1115.41" y1="1417.93" x2="1115.76" y2="1412.14" stroke="#000" stroke-width="2.8"/><line x1="1127.54" y1="1418.75" x2="1127.97" y2="1412.96" stroke="#000" stroke-width="2.8"/><line x1="1139.66" y1="1419.74" x2="1140.17" y2="1413.96" stroke="#000" stroke-width="2.8"/><line x1="1151.76" y1="1420.90" x2="1152.81" y2="1410.65" stroke="#000" stroke-width="2.8"/><text transform="translate(968.30,1407.94) rotate(443.97)" x="0" y="7.59" text-anchor="end" font-size="21.7" textLength="39" lengthAdjust="spacing">100</text><text transform="translate(1029.85,1403.58) rotate(447.93)" x="0" y="7.59" text-anchor="end" font-size="21.7" textLength="39" lengthAdjust="spacing">200</text><text transform="translate(1091.55,1403.49) rotate(271.90)" x="0" y="7.59" text-anchor="start" font-size="21.7" textLength="39" lengthAdjust="spacing">300</text><text transform="translate(1153.12,1407.67) rotate(275.87)" x="0" y="7.59" text-anchor="start" font-size="21.7" textLength="39" lengthAdjust="spacing">400</text><path d="M1214.50,1429.64 A878.20,878.20 0 0 1 1445.14,1504.28" fill="none" stroke="#000" stroke-width="3.4"/><line x1="1226.46" y1="1431.84" x2="1227.54" y2="1426.14" stroke="#000" stroke-width="2.8"/><line x1="1238.39" y1="1434.20" x2="1239.55" y2="1428.51" stroke="#000" stroke-width="2.8"/><line x1="1250.28" y1="1436.72" x2="1251.52" y2="1431.06" stroke="#000" stroke-width="2.8"/><line x1="1262.14" y1="1439.41" x2="1263.46" y2="1433.76" stroke="#000" stroke-width="2.8"/><line x1="1273.96" y1="1442.26" x2="1276.44" y2="1432.27" stroke="#000" stroke-width="2.8"/><line x1="1285.74" y1="1445.28" x2="1287.22" y2="1439.67" stroke="#000" stroke-width="2.8"/><line x1="1297.47" y1="1448.46" x2="1299.03" y2="1442.87" stroke="#000" stroke-width="2.8"/><line x1="1309.17" y1="1451.80" x2="1310.80" y2="1446.23" stroke="#000" stroke-width="2.8"/><line x1="1320.81" y1="1455.30" x2="1322.52" y2="1449.76" stroke="#000" stroke-width="2.8"/><line x1="1332.40" y1="1458.97" x2="1335.58" y2="1449.17" stroke="#000" stroke-width="2.8"/><line x1="1343.95" y1="1462.79" x2="1345.81" y2="1457.30" stroke="#000" stroke-width="2.8"/><line x1="1355.44" y1="1466.77" x2="1357.37" y2="1461.31" stroke="#000" stroke-width="2.8"/><line x1="1366.87" y1="1470.92" x2="1368.88" y2="1465.48" stroke="#000" stroke-width="2.8"/><line x1="1378.24" y1="1475.22" x2="1380.33" y2="1469.81" stroke="#000" stroke-width="2.8"/><line x1="1389.55" y1="1479.67" x2="1393.40" y2="1470.12" stroke="#000" stroke-width="2.8"/><line x1="1400.81" y1="1484.29" x2="1403.04" y2="1478.94" stroke="#000" stroke-width="2.8"/><line x1="1411.99" y1="1489.05" x2="1414.30" y2="1483.74" stroke="#000" stroke-width="2.8"/><line x1="1423.11" y1="1493.98" x2="1425.49" y2="1488.69" stroke="#000" stroke-width="2.8"/><line x1="1434.16" y1="1499.05" x2="1436.62" y2="1493.80" stroke="#000" stroke-width="2.8"/><line x1="1445.14" y1="1504.28" x2="1449.63" y2="1495.02" stroke="#000" stroke-width="2.8"/><text transform="translate(1277.17,1429.36) rotate(283.97)" x="0" y="7.59" text-anchor="start" font-size="21.7" textLength="39" lengthAdjust="spacing">100</text><text transform="translate(1336.50,1446.31) rotate(287.93)" x="0" y="7.59" text-anchor="start" font-size="21.7" textLength="39" lengthAdjust="spacing">200</text><text transform="translate(1394.52,1467.33) rotate(291.90)" x="0" y="7.59" text-anchor="start" font-size="21.7" textLength="39" lengthAdjust="spacing">300</text><text transform="translate(1450.94,1492.32) rotate(295.87)" x="0" y="7.59" text-anchor="start" font-size="21.7" textLength="39" lengthAdjust="spacing">400</text><path d="M1501.10,1533.96 A878.20,878.20 0 0 1 1692.30,1682.98" fill="none" stroke="#000" stroke-width="3.4"/><line x1="1511.59" y1="1540.11" x2="1514.56" y2="1535.13" stroke="#000" stroke-width="2.8"/><line x1="1521.99" y1="1546.41" x2="1525.03" y2="1541.47" stroke="#000" stroke-width="2.8"/><line x1="1532.30" y1="1552.85" x2="1535.41" y2="1547.95" stroke="#000" stroke-width="2.8"/><line x1="1542.53" y1="1559.43" x2="1545.70" y2="1554.57" stroke="#000" stroke-width="2.8"/><line x1="1552.66" y1="1566.15" x2="1558.41" y2="1557.61" stroke="#000" stroke-width="2.8"/><line x1="1562.70" y1="1573.02" x2="1566.00" y2="1568.25" stroke="#000" stroke-width="2.8"/><line x1="1572.64" y1="1580.02" x2="1576.01" y2="1575.30" stroke="#000" stroke-width="2.8"/><line x1="1582.48" y1="1587.16" x2="1585.92" y2="1582.48" stroke="#000" stroke-width="2.8"/><line x1="1592.22" y1="1594.43" x2="1595.73" y2="1589.81" stroke="#000" stroke-width="2.8"/><line x1="1601.87" y1="1601.84" x2="1608.20" y2="1593.72" stroke="#000" stroke-width="2.8"/><line x1="1611.41" y1="1609.38" x2="1615.03" y2="1604.86" stroke="#000" stroke-width="2.8"/><line x1="1620.84" y1="1617.05" x2="1624.53" y2="1612.58" stroke="#000" stroke-width="2.8"/><line x1="1630.16" y1="1624.86" x2="1633.92" y2="1620.43" stroke="#000" stroke-width="2.8"/><line x1="1639.38" y1="1632.79" x2="1643.19" y2="1628.42" stroke="#000" stroke-width="2.8"/><line x1="1648.49" y1="1640.84" x2="1655.37" y2="1633.18" stroke="#000" stroke-width="2.8"/><line x1="1657.48" y1="1649.03" x2="1661.42" y2="1644.76" stroke="#000" stroke-width="2.8"/><line x1="1666.36" y1="1657.33" x2="1670.35" y2="1653.12" stroke="#000" stroke-width="2.8"/><line x1="1675.13" y1="1665.76" x2="1679.18" y2="1661.61" stroke="#000" stroke-width="2.8"/><line x1="1683.77" y1="1674.31" x2="1687.88" y2="1670.22" stroke="#000" stroke-width="2.8"/><line x1="1692.30" y1="1682.98" x2="1699.69" y2="1675.81" stroke="#000" stroke-width="2.8"/><text transform="translate(1560.09,1555.12) rotate(303.97)" x="0" y="7.59" text-anchor="start" font-size="21.7" textLength="39" lengthAdjust="spacing">100</text><text transform="translate(1610.04,1591.35) rotate(307.93)" x="0" y="7.59" text-anchor="start" font-size="21.7" textLength="39" lengthAdjust="spacing">200</text><text transform="translate(1657.37,1630.94) rotate(311.90)" x="0" y="7.59" text-anchor="start" font-size="21.7" textLength="39" lengthAdjust="spacing">300</text><text transform="translate(1701.85,1673.72) rotate(315.87)" x="0" y="7.59" text-anchor="start" font-size="21.7" textLength="39" lengthAdjust="spacing">400</text><path d="M1734.74,1730.00 A878.20,878.20 0 0 1 1863.44,1935.43" fill="none" stroke="#000" stroke-width="3.4"/><line x1="1742.49" y1="1739.37" x2="1746.99" y2="1735.71" stroke="#000" stroke-width="2.8"/><line x1="1750.11" y1="1748.85" x2="1754.66" y2="1745.24" stroke="#000" stroke-width="2.8"/><line x1="1757.60" y1="1758.43" x2="1762.20" y2="1754.89" stroke="#000" stroke-width="2.8"/><line x1="1764.96" y1="1768.11" x2="1769.60" y2="1764.63" stroke="#000" stroke-width="2.8"/><line x1="1772.18" y1="1777.89" x2="1780.51" y2="1771.83" stroke="#000" stroke-width="2.8"/><line x1="1779.26" y1="1787.78" x2="1784.00" y2="1784.43" stroke="#000" stroke-width="2.8"/><line x1="1786.21" y1="1797.75" x2="1790.99" y2="1794.47" stroke="#000" stroke-width="2.8"/><line x1="1793.02" y1="1807.83" x2="1797.85" y2="1804.62" stroke="#000" stroke-width="2.8"/><line x1="1799.69" y1="1818.00" x2="1804.56" y2="1814.85" stroke="#000" stroke-width="2.8"/><line x1="1806.21" y1="1828.26" x2="1814.94" y2="1822.79" stroke="#000" stroke-width="2.8"/><line x1="1812.60" y1="1838.61" x2="1817.55" y2="1835.59" stroke="#000" stroke-width="2.8"/><line x1="1818.84" y1="1849.04" x2="1823.84" y2="1846.10" stroke="#000" stroke-width="2.8"/><line x1="1824.93" y1="1859.56" x2="1829.97" y2="1856.69" stroke="#000" stroke-width="2.8"/><line x1="1830.88" y1="1870.17" x2="1835.96" y2="1867.37" stroke="#000" stroke-width="2.8"/><line x1="1836.68" y1="1880.85" x2="1845.77" y2="1876.00" stroke="#000" stroke-width="2.8"/><line x1="1842.34" y1="1891.62" x2="1847.49" y2="1888.96" stroke="#000" stroke-width="2.8"/><line x1="1847.84" y1="1902.46" x2="1853.03" y2="1899.87" stroke="#000" stroke-width="2.8"/><line x1="1853.19" y1="1913.38" x2="1858.42" y2="1910.86" stroke="#000" stroke-width="2.8"/><line x1="1858.39" y1="1924.37" x2="1863.65" y2="1921.93" stroke="#000" stroke-width="2.8"/><line x1="1863.44" y1="1935.43" x2="1872.84" y2="1931.22" stroke="#000" stroke-width="2.8"/><text transform="translate(1782.93,1770.07) rotate(323.97)" x="0" y="7.59" text-anchor="start" font-size="21.7" textLength="39" lengthAdjust="spacing">100</text><text transform="translate(1817.48,1821.20) rotate(327.93)" x="0" y="7.59" text-anchor="start" font-size="21.7" textLength="39" lengthAdjust="spacing">200</text><text transform="translate(1848.41,1874.59) rotate(331.90)" x="0" y="7.59" text-anchor="start" font-size="21.7" textLength="39" lengthAdjust="spacing">300</text><text transform="translate(1875.58,1930.00) rotate(335.87)" x="0" y="7.59" text-anchor="start" font-size="21.7" textLength="39" lengthAdjust="spacing">400</text><path d="M1887.24,1994.14 A878.20,878.20 0 0 1 1937.92,2231.20" fill="none" stroke="#000" stroke-width="3.4"/><line x1="1891.32" y1="2005.59" x2="1896.79" y2="2003.68" stroke="#000" stroke-width="2.8"/><line x1="1895.24" y1="2017.10" x2="1900.74" y2="2015.27" stroke="#000" stroke-width="2.8"/><line x1="1899.00" y1="2028.67" x2="1904.53" y2="2026.91" stroke="#000" stroke-width="2.8"/><line x1="1902.60" y1="2040.28" x2="1908.15" y2="2038.60" stroke="#000" stroke-width="2.8"/><line x1="1906.04" y1="2051.94" x2="1915.94" y2="2049.10" stroke="#000" stroke-width="2.8"/><line x1="1909.32" y1="2063.65" x2="1914.91" y2="2062.13" stroke="#000" stroke-width="2.8"/><line x1="1912.43" y1="2075.41" x2="1918.05" y2="2073.96" stroke="#000" stroke-width="2.8"/><line x1="1915.38" y1="2087.20" x2="1921.02" y2="2085.83" stroke="#000" stroke-width="2.8"/><line x1="1918.17" y1="2099.04" x2="1923.83" y2="2097.75" stroke="#000" stroke-width="2.8"/><line x1="1920.80" y1="2110.91" x2="1930.87" y2="2108.76" stroke="#000" stroke-width="2.8"/><line x1="1923.26" y1="2122.82" x2="1928.94" y2="2121.68" stroke="#000" stroke-width="2.8"/><line x1="1925.55" y1="2134.76" x2="1931.25" y2="2133.70" stroke="#000" stroke-width="2.8"/><line x1="1927.68" y1="2146.73" x2="1933.40" y2="2145.76" stroke="#000" stroke-width="2.8"/><line x1="1929.64" y1="2158.73" x2="1935.37" y2="2157.83" stroke="#000" stroke-width="2.8"/><line x1="1931.44" y1="2170.76" x2="1941.64" y2="2169.31" stroke="#000" stroke-width="2.8"/><line x1="1933.07" y1="2182.81" x2="1938.82" y2="2182.07" stroke="#000" stroke-width="2.8"/><line x1="1934.53" y1="2194.88" x2="1940.29" y2="2194.22" stroke="#000" stroke-width="2.8"/><line x1="1935.83" y1="2206.97" x2="1941.60" y2="2206.39" stroke="#000" stroke-width="2.8"/><line x1="1936.96" y1="2219.08" x2="1942.73" y2="2218.58" stroke="#000" stroke-width="2.8"/><line x1="1937.92" y1="2231.20" x2="1948.19" y2="2230.45" stroke="#000" stroke-width="2.8"/><text transform="translate(1918.82,2048.27) rotate(343.97)" x="0" y="7.59" text-anchor="start" font-size="21.7" textLength="39" lengthAdjust="spacing">100</text><text transform="translate(1933.80,2108.13) rotate(347.93)" x="0" y="7.59" text-anchor="start" font-size="21.7" textLength="39" lengthAdjust="spacing">200</text><text transform="translate(1944.61,2168.88) rotate(351.90)" x="0" y="7.59" text-anchor="start" font-size="21.7" textLength="39" lengthAdjust="spacing">300</text><text transform="translate(1951.18,2230.24) rotate(355.87)" x="0" y="7.59" text-anchor="start" font-size="21.7" textLength="39" lengthAdjust="spacing">400</text><text font-size="33" text-anchor="middle"><textPath href="#go0" startOffset="50%">GO:0034341</textPath></text><text font-size="33" text-anchor="middle"><textPath href="#go1" startOffset="50%">GO:0006959</textPath></text><text font-size="33" text-anchor="middle"><textPath href="#go2" startOffset="50%">GO:0009615</textPath></text><text font-size="33" text-anchor="middle"><textPath href="#go3" startOffset="50%">GO:0002237</textPath></text><text font-size="33" text-anchor="middle"><textPath href="#go4" startOffset="50%">GO:0001906</textPath></text><text font-size="33" text-anchor="middle"><textPath href="#go5" startOffset="50%">GO:0032496</textPath></text><text font-size="33" text-anchor="middle"><textPath href="#go6" startOffset="50%">GO:0034364</textPath></text><text font-size="33" text-anchor="middle"><textPath href="#go7" startOffset="50%">GO:0001533</textPath></text><text font-size="33" text-anchor="middle"><textPath href="#go8" startOffset="50%">GO:0072562</textPath></text><text font-size="33" text-anchor="middle"><textPath href="#go9" startOffset="50%">GO:0045177</textPath></text><text font-size="33" text-anchor="middle"><textPath href="#go10" startOffset="50%">GO:0034358</textPath></text><text font-size="33" text-anchor="middle"><textPath href="#go11" startOffset="50%">GO:1990777</textPath></text><text font-size="33" text-anchor="middle"><textPath href="#go12" startOffset="50%">GO:0004857</textPath></text><text font-size="33" text-anchor="middle"><textPath href="#go13" startOffset="50%">GO:0004866</textPath></text><text font-size="33" text-anchor="middle"><textPath href="#go14" startOffset="50%">GO:0030414</textPath></text><text font-size="33" text-anchor="middle"><textPath href="#go15" startOffset="50%">GO:0061134</textPath></text><text font-size="33" text-anchor="middle"><textPath href="#go16" startOffset="50%">GO:0061135</textPath></text><text font-size="33" text-anchor="middle"><textPath href="#go17" startOffset="50%">GO:0004867</textPath></text><path d="M1838.40,2294.50 A776.40,776.40 0 0 1 1835.68,2359.46 L1773.10,2354.21 A713.60,713.60 0 0 0 1775.60,2294.50 Z" fill="#F82A24" stroke="#F82A24" stroke-width="1.2"/><text transform="translate(1800.85,2325.46) rotate(92.40)" font-size="33">121</text><path d="M1791.58,2560.04 A776.40,776.40 0 0 1 1718.57,2708.88 L1665.47,2675.36 A713.60,713.60 0 0 0 1732.56,2538.57 Z" fill="#F92C26" stroke="#F92C26" stroke-width="1.2"/><text transform="translate(1725.93,2620.16) rotate(116.13)" font-size="33">309</text><path d="M1656.76,2793.56 A776.40,776.40 0 0 1 1486.47,2944.59 L1452.14,2892.01 A713.60,713.60 0 0 0 1608.65,2753.19 Z" fill="#FC402C" stroke="#FC402C" stroke-width="1.2"/><text transform="translate(1552.69,2847.75) rotate(138.43)" font-size="33">425</text><path d="M1450.20,2966.88 A776.40,776.40 0 0 1 1262.51,3044.56 L1246.29,2983.89 A713.60,713.60 0 0 0 1418.80,2912.50 Z" fill="#FC412D" stroke="#FC412D" stroke-width="1.2"/><text transform="translate(1344.80,2977.79) rotate(157.52)" font-size="33">379</text><path d="M1196.82,3059.10 A776.40,776.40 0 0 1 1056.14,3070.88 L1056.62,3008.08 A713.60,713.60 0 0 0 1185.92,2997.26 Z" fill="#FC4832" stroke="#FC4832" stroke-width="1.2"/><text transform="translate(1123.67,3031.42) rotate(175.22)" font-size="33">263</text><path d="M927.18,3059.10 A776.40,776.40 0 0 1 744.22,3002.89 L769.92,2945.59 A713.60,713.60 0 0 0 938.08,2997.26 Z" fill="#FC4A34" stroke="#FC4A34" stroke-width="1.2"/><text transform="translate(844.80,3001.38) rotate(197.08)" font-size="33">357</text><path d="M673.80,2966.88 A776.40,776.40 0 0 1 661.30,2959.51 L693.71,2905.72 A713.60,713.60 0 0 0 705.20,2912.50 Z" fill="#FCBBA1" stroke="#FCBBA1" stroke-width="1.2"/><text transform="translate(686.28,2931.44) rotate(210.54)" font-size="33">27</text><path d="M467.24,2793.56 A776.40,776.40 0 0 1 447.03,2768.43 L496.77,2730.10 A713.60,713.60 0 0 0 515.35,2753.19 Z" fill="#FCB8A0" stroke="#FCB8A0" stroke-width="1.2"/><text transform="translate(485.76,2757.97) rotate(231.19)" font-size="33">60</text><path d="M332.42,2560.04 A776.40,776.40 0 0 1 309.48,2485.59 L370.35,2470.14 A713.60,713.60 0 0 0 391.44,2538.57 Z" fill="#FCB9A0" stroke="#FCB9A0" stroke-width="1.2"/><text transform="translate(355.28,2512.24) rotate(252.88)" font-size="33">145</text><path d="M285.60,2294.50 A776.40,776.40 0 0 1 327.90,2041.73 L387.28,2062.17 A713.60,713.60 0 0 0 348.40,2294.50 Z" fill="#FCB9A0" stroke="#FCB9A0" stroke-width="1.2"/><text transform="translate(332.64,2172.45) rotate(279.50)" font-size="33">479</text><path d="M332.42,2028.96 A776.40,776.40 0 0 1 339.46,2010.36 L397.91,2033.34 A713.60,713.60 0 0 0 391.44,2050.43 Z" fill="#FCBBA1" stroke="#FCBBA1" stroke-width="1.2"/><text transform="translate(370.39,2032.70) rotate(290.73)" font-size="33">37</text><path d="M467.24,1795.44 A776.40,776.40 0 0 1 480.22,1780.37 L527.28,1821.96 A713.60,713.60 0 0 0 515.35,1835.81 Z" fill="#FCBBA1" stroke="#FCBBA1" stroke-width="1.2"/><text transform="translate(501.64,1811.94) rotate(310.73)" font-size="33">37</text><path d="M673.80,1622.12 A776.40,776.40 0 0 1 880.77,1539.55 L895.43,1600.61 A713.60,713.60 0 0 0 705.20,1676.50 Z" fill="#FD7252" stroke="#FD7252" stroke-width="1.2"/><text transform="translate(787.98,1607.64) rotate(338.25)" font-size="33">416</text><path d="M927.18,1529.90 A776.40,776.40 0 0 1 1013.06,1519.64 L1017.02,1582.32 A713.60,713.60 0 0 0 938.08,1591.74 Z" fill="#FD8464" stroke="#FD8464" stroke-width="1.2"/><text transform="translate(974.35,1560.21) rotate(353.19)" font-size="33">161</text><path d="M1196.82,1529.90 A776.40,776.40 0 0 1 1285.15,1550.86 L1267.10,1611.01 A713.60,713.60 0 0 0 1185.92,1591.74 Z" fill="#FD8464" stroke="#FD8464" stroke-width="1.2"/><text transform="translate(1232.77,1574.99) rotate(373.35)" font-size="33">169</text><path d="M1450.20,1622.12 A776.40,776.40 0 0 1 1550.23,1690.82 L1510.74,1739.65 A713.60,713.60 0 0 0 1418.80,1676.50 Z" fill="#FC8A6A" stroke="#FC8A6A" stroke-width="1.2"/><text transform="translate(1480.67,1684.93) rotate(394.48)" font-size="33">226</text><path d="M1656.76,1795.44 A776.40,776.40 0 0 1 1715.34,1875.04 L1662.49,1908.97 A713.60,713.60 0 0 0 1608.65,1835.81 Z" fill="#FC8A6A" stroke="#FC8A6A" stroke-width="1.2"/><text transform="translate(1657.60,1856.18) rotate(413.65)" font-size="33">184</text><path d="M1791.58,2028.96 A776.40,776.40 0 0 1 1807.45,2077.48 L1747.16,2095.03 A713.60,713.60 0 0 0 1732.56,2050.43 Z" fill="#FCA387" stroke="#FCA387" stroke-width="1.2"/><text transform="translate(1764.84,2064.56) rotate(431.88)" font-size="33">95</text><path d="M1733.00,2294.50 A671.00,671.00 0 0 1 1732.97,2300.54 L1667.98,2299.95 A606.00,606.00 0 0 0 1668.00,2294.50 Z" fill="#A45AA5"/><text transform="translate(1694.99,2297.35) rotate(90.26)" font-size="33">13</text><path d="M1692.53,2524.00 A671.00,671.00 0 0 1 1689.63,2531.83 L1628.83,2508.84 A606.00,606.00 0 0 0 1631.45,2501.76 Z" fill="#A45AA5"/><text transform="translate(1655.46,2514.70) rotate(110.36)" font-size="33">18</text><path d="M1576.02,2725.81 A671.00,671.00 0 0 1 1570.30,2732.53 L1521.06,2690.10 A606.00,606.00 0 0 0 1526.22,2684.03 Z" fill="#A45AA5"/><text transform="translate(1544.22,2704.56) rotate(130.38)" font-size="33">19</text><path d="M1397.50,2875.60 A671.00,671.00 0 0 1 1390.23,2879.74 L1358.44,2823.05 A606.00,606.00 0 0 0 1365.00,2819.31 Z" fill="#A45AA5"/><text transform="translate(1375.08,2844.66) rotate(150.36)" font-size="33">18</text><path d="M1178.52,2955.31 A671.00,671.00 0 0 1 1171.65,2956.48 L1161.03,2892.35 A606.00,606.00 0 0 0 1167.23,2891.29 Z" fill="#A45AA5"/><text transform="translate(1168.68,2918.45) rotate(170.30)" font-size="33">15</text><path d="M945.48,2955.31 A671.00,671.00 0 0 1 937.71,2953.89 L949.75,2890.01 A606.00,606.00 0 0 0 956.77,2891.29 Z" fill="#A45AA5"/><text transform="translate(948.41,2917.23) rotate(190.34)" font-size="33">17</text><path d="M726.50,2875.60 A671.00,671.00 0 0 1 724.89,2874.67 L757.55,2818.47 A606.00,606.00 0 0 0 759.00,2819.31 Z" fill="#A45AA5"/><text transform="translate(744.74,2842.26) rotate(210.08)" font-size="33">4</text><path d="M547.98,2725.81 A671.00,671.00 0 0 1 546.49,2724.03 L596.43,2682.42 A606.00,606.00 0 0 0 597.78,2684.03 Z" fill="#A45AA5"/><text transform="translate(576.39,2700.54) rotate(230.10)" font-size="33">5</text><path d="M431.47,2524.00 A671.00,671.00 0 0 1 430.36,2520.94 L491.55,2499.00 A606.00,606.00 0 0 0 492.55,2501.76 Z" fill="#A45AA5"/><text transform="translate(466.65,2509.56) rotate(250.14)" font-size="33">7</text><path d="M391.00,2294.50 A671.00,671.00 0 0 1 391.02,2288.93 L456.02,2289.47 A606.00,606.00 0 0 0 456.00,2294.50 Z" fill="#A45AA5"/><text transform="translate(429.01,2291.87) rotate(270.24)" font-size="33">12</text><path d="M431.47,2065.00 A671.00,671.00 0 0 1 432.10,2063.26 L493.12,2085.66 A606.00,606.00 0 0 0 492.55,2087.24 Z" fill="#A45AA5"/><text transform="translate(467.47,2077.18) rotate(290.08)" font-size="33">4</text><path d="M547.98,1863.19 A671.00,671.00 0 0 1 549.18,1861.77 L598.86,1903.69 A606.00,606.00 0 0 0 597.78,1904.97 Z" fill="#A45AA5"/><text transform="translate(577.66,1886.94) rotate(310.08)" font-size="33">4</text><path d="M726.50,1713.40 A671.00,671.00 0 0 1 732.96,1709.72 L764.83,1766.36 A606.00,606.00 0 0 0 759.00,1769.69 Z" fill="#A45AA5"/><text transform="translate(748.54,1744.56) rotate(330.32)" font-size="33">16</text><path d="M945.48,1633.69 A671.00,671.00 0 0 1 950.06,1632.90 L960.90,1696.99 A606.00,606.00 0 0 0 956.77,1697.71 Z" fill="#A45AA5"/><text transform="translate(954.24,1670.74) rotate(350.20)" font-size="33">10</text><path d="M1178.52,1633.69 A671.00,671.00 0 0 1 1183.09,1634.52 L1171.36,1698.45 A606.00,606.00 0 0 0 1167.23,1697.71 Z" fill="#A45AA5"/><text transform="translate(1174.08,1671.50) rotate(370.20)" font-size="33">10</text><path d="M1397.50,1713.40 A671.00,671.00 0 0 1 1401.92,1715.97 L1368.99,1772.01 A606.00,606.00 0 0 0 1365.00,1769.69 Z" fill="#A45AA5"/><text transform="translate(1380.59,1747.52) rotate(390.22)" font-size="33">11</text><path d="M1576.02,1863.19 A671.00,671.00 0 0 1 1578.99,1866.76 L1528.91,1908.19 A606.00,606.00 0 0 0 1526.22,1904.97 Z" fill="#A45AA5"/><text transform="translate(1548.31,1889.30) rotate(410.20)" font-size="33">10</text><path d="M1692.53,2065.00 A671.00,671.00 0 0 1 1693.64,2068.06 L1632.45,2090.00 A606.00,606.00 0 0 0 1631.45,2087.24 Z" fill="#A45AA5"/><text transform="translate(1657.35,2079.44) rotate(430.14)" font-size="33">7</text><path d="M1637.80,2294.50 A575.80,575.80 0 0 1 1606.43,2481.96 L1313.13,2380.97 A265.60,265.60 0 0 0 1327.60,2294.50 Z" fill="#E5E5E5" stroke="#fff" stroke-width="3"/><path d="M1358.62,2295.79 A296.62,296.62 0 0 1 1342.88,2389.85" fill="none" stroke="#fff" stroke-width="1.05"/><path d="M1389.64,2295.93 A327.64,327.64 0 0 1 1372.25,2399.82" fill="none" stroke="#fff" stroke-width="1.05"/><path d="M1420.66,2296.06 A358.66,358.66 0 0 1 1401.63,2409.79" fill="none" stroke="#fff" stroke-width="1.05"/><path d="M1451.68,2296.20 A389.68,389.68 0 0 1 1431.00,2419.76" fill="none" stroke="#fff" stroke-width="1.05"/><path d="M1482.70,2296.34 A420.70,420.70 0 0 1 1460.37,2429.73" fill="none" stroke="#fff" stroke-width="1.05"/><path d="M1513.72,2296.47 A451.72,451.72 0 0 1 1489.75,2439.70" fill="none" stroke="#fff" stroke-width="1.05"/><path d="M1544.74,2296.61 A482.74,482.74 0 0 1 1519.12,2449.67" fill="none" stroke="#fff" stroke-width="1.05"/><path d="M1575.76,2296.74 A513.76,513.76 0 0 1 1548.49,2459.64" fill="none" stroke="#fff" stroke-width="1.05"/><path d="M1606.77,2296.88 A544.78,544.78 0 0 1 1577.87,2469.61" fill="none" stroke="#fff" stroke-width="1.05"/><path d="M1603.08,2491.44 A575.80,575.80 0 0 1 1509.48,2656.86 L1268.41,2461.65 A265.60,265.60 0 0 0 1311.58,2385.34 Z" fill="#E5E5E5" stroke="#fff" stroke-width="3"/><path d="M1340.29,2397.17 A296.62,296.62 0 0 1 1293.33,2480.16" fill="none" stroke="#fff" stroke-width="1.05"/><path d="M1369.39,2407.90 A327.64,327.64 0 0 1 1317.52,2499.58" fill="none" stroke="#fff" stroke-width="1.05"/><path d="M1398.49,2418.64 A358.66,358.66 0 0 1 1341.71,2518.99" fill="none" stroke="#fff" stroke-width="1.05"/><path d="M1427.59,2429.37 A389.68,389.68 0 0 1 1365.91,2538.41" fill="none" stroke="#fff" stroke-width="1.05"/><path d="M1456.70,2440.11 A420.70,420.70 0 0 1 1390.10,2557.83" fill="none" stroke="#fff" stroke-width="1.05"/><path d="M1485.80,2450.85 A451.72,451.72 0 0 1 1414.29,2577.24" fill="none" stroke="#fff" stroke-width="1.05"/><path d="M1514.90,2461.58 A482.74,482.74 0 0 1 1438.48,2596.66" fill="none" stroke="#fff" stroke-width="1.05"/><path d="M1544.01,2472.32 A513.76,513.76 0 0 1 1462.67,2616.07" fill="none" stroke="#fff" stroke-width="1.05"/><path d="M1573.11,2483.06 A544.78,544.78 0 0 1 1486.87,2635.49" fill="none" stroke="#fff" stroke-width="1.05"/><path d="M1503.09,2664.62 A575.80,575.80 0 0 1 1358.56,2788.06 L1198.79,2522.16 A265.60,265.60 0 0 0 1265.46,2465.22 Z" fill="#E5E5E5" stroke="#fff" stroke-width="3"/><path d="M1288.39,2486.15 A296.62,296.62 0 0 1 1215.88,2548.08" fill="none" stroke="#fff" stroke-width="1.05"/><path d="M1312.07,2506.20 A327.64,327.64 0 0 1 1231.97,2574.60" fill="none" stroke="#fff" stroke-width="1.05"/><path d="M1335.74,2526.24 A358.66,358.66 0 0 1 1248.06,2601.12" fill="none" stroke="#fff" stroke-width="1.05"/><path d="M1359.42,2546.28 A389.68,389.68 0 0 1 1264.16,2627.64" fill="none" stroke="#fff" stroke-width="1.05"/><path d="M1383.09,2566.32 A420.70,420.70 0 0 1 1280.25,2654.16" fill="none" stroke="#fff" stroke-width="1.05"/><path d="M1406.77,2586.37 A451.72,451.72 0 0 1 1296.34,2680.68" fill="none" stroke="#fff" stroke-width="1.05"/><path d="M1430.44,2606.41 A482.74,482.74 0 0 1 1312.43,2707.20" fill="none" stroke="#fff" stroke-width="1.05"/><path d="M1454.12,2626.45 A513.76,513.76 0 0 1 1328.52,2733.72" fill="none" stroke="#fff" stroke-width="1.05"/><path d="M1477.79,2646.50 A544.78,544.78 0 0 1 1344.62,2760.24" fill="none" stroke="#fff" stroke-width="1.05"/><path d="M1349.90,2793.16 A575.80,575.80 0 0 1 1171.87,2859.72 L1112.68,2555.22 A265.60,265.60 0 0 0 1194.80,2524.52 Z" fill="#E5E5E5" stroke="#fff" stroke-width="3"/><path d="M1209.19,2552.03 A296.62,296.62 0 0 1 1119.87,2585.42" fill="none" stroke="#fff" stroke-width="1.05"/><path d="M1224.58,2578.96 A327.64,327.64 0 0 1 1125.92,2615.84" fill="none" stroke="#fff" stroke-width="1.05"/><path d="M1239.97,2605.89 A358.66,358.66 0 0 1 1131.97,2646.27" fill="none" stroke="#fff" stroke-width="1.05"/><path d="M1255.37,2632.82 A389.68,389.68 0 0 1 1138.02,2676.69" fill="none" stroke="#fff" stroke-width="1.05"/><path d="M1270.76,2659.75 A420.70,420.70 0 0 1 1144.07,2707.12" fill="none" stroke="#fff" stroke-width="1.05"/><path d="M1286.15,2686.68 A451.72,451.72 0 0 1 1150.13,2737.54" fill="none" stroke="#fff" stroke-width="1.05"/><path d="M1301.54,2713.61 A482.74,482.74 0 0 1 1156.18,2767.96" fill="none" stroke="#fff" stroke-width="1.05"/><path d="M1316.94,2740.55 A513.76,513.76 0 0 1 1162.23,2798.39" fill="none" stroke="#fff" stroke-width="1.05"/><path d="M1332.33,2767.48 A544.78,544.78 0 0 1 1168.28,2828.81" fill="none" stroke="#fff" stroke-width="1.05"/><path d="M1161.99,2861.55 A575.80,575.80 0 0 1 971.93,2863.21 L1020.45,2556.83 A265.60,265.60 0 0 0 1108.12,2556.06 Z" fill="#E5E5E5" stroke="#fff" stroke-width="3"/><path d="M1112.23,2586.84 A296.62,296.62 0 0 1 1016.88,2587.67" fill="none" stroke="#fff" stroke-width="1.05"/><path d="M1117.49,2617.41 A327.64,327.64 0 0 1 1012.16,2618.33" fill="none" stroke="#fff" stroke-width="1.05"/><path d="M1122.74,2647.98 A358.66,358.66 0 0 1 1007.44,2648.99" fill="none" stroke="#fff" stroke-width="1.05"/><path d="M1127.99,2678.55 A389.68,389.68 0 0 1 1002.72,2679.64" fill="none" stroke="#fff" stroke-width="1.05"/><path d="M1133.25,2709.12 A420.70,420.70 0 0 1 998.00,2710.30" fill="none" stroke="#fff" stroke-width="1.05"/><path d="M1138.50,2739.70 A451.72,451.72 0 0 1 993.28,2740.96" fill="none" stroke="#fff" stroke-width="1.05"/><path d="M1143.75,2770.27 A482.74,482.74 0 0 1 988.56,2771.62" fill="none" stroke="#fff" stroke-width="1.05"/><path d="M1149.01,2800.84 A513.76,513.76 0 0 1 983.85,2802.28" fill="none" stroke="#fff" stroke-width="1.05"/><path d="M1154.26,2831.41 A544.78,544.78 0 0 1 979.13,2832.94" fill="none" stroke="#fff" stroke-width="1.05"/><path d="M962.01,2861.55 A575.80,575.80 0 0 1 782.85,2798.11 L933.23,2526.80 A265.60,265.60 0 0 0 1015.88,2556.06 Z" fill="#E5E5E5" stroke="#fff" stroke-width="3"/><path d="M1009.22,2586.39 A296.62,296.62 0 0 1 919.33,2554.55" fill="none" stroke="#fff" stroke-width="1.05"/><path d="M1003.70,2616.91 A327.64,327.64 0 0 1 904.41,2581.75" fill="none" stroke="#fff" stroke-width="1.05"/><path d="M998.18,2647.44 A358.66,358.66 0 0 1 889.49,2608.95" fill="none" stroke="#fff" stroke-width="1.05"/><path d="M992.66,2677.96 A389.68,389.68 0 0 1 874.57,2636.14" fill="none" stroke="#fff" stroke-width="1.05"/><path d="M987.14,2708.49 A420.70,420.70 0 0 1 859.65,2663.34" fill="none" stroke="#fff" stroke-width="1.05"/><path d="M981.62,2739.01 A451.72,451.72 0 0 1 844.73,2690.54" fill="none" stroke="#fff" stroke-width="1.05"/><path d="M976.10,2769.54 A482.74,482.74 0 0 1 829.81,2717.73" fill="none" stroke="#fff" stroke-width="1.05"/><path d="M970.58,2800.06 A513.76,513.76 0 0 1 814.89,2744.93" fill="none" stroke="#fff" stroke-width="1.05"/><path d="M965.06,2830.59 A544.78,544.78 0 0 1 799.97,2772.12" fill="none" stroke="#fff" stroke-width="1.05"/><path d="M774.10,2793.16 A575.80,575.80 0 0 1 627.44,2672.26 L861.55,2468.75 A265.60,265.60 0 0 0 929.20,2524.52 Z" fill="#E5E5E5" stroke="#fff" stroke-width="3"/><path d="M912.57,2550.73 A296.62,296.62 0 0 1 838.99,2490.08" fill="none" stroke="#fff" stroke-width="1.05"/><path d="M896.94,2577.53 A327.64,327.64 0 0 1 815.67,2510.53" fill="none" stroke="#fff" stroke-width="1.05"/><path d="M881.32,2604.32 A358.66,358.66 0 0 1 792.35,2530.98" fill="none" stroke="#fff" stroke-width="1.05"/><path d="M865.69,2631.12 A389.68,389.68 0 0 1 769.02,2551.43" fill="none" stroke="#fff" stroke-width="1.05"/><path d="M850.06,2657.92 A420.70,420.70 0 0 1 745.70,2571.89" fill="none" stroke="#fff" stroke-width="1.05"/><path d="M834.44,2684.71 A451.72,451.72 0 0 1 722.38,2592.34" fill="none" stroke="#fff" stroke-width="1.05"/><path d="M818.81,2711.51 A482.74,482.74 0 0 1 699.06,2612.79" fill="none" stroke="#fff" stroke-width="1.05"/><path d="M803.18,2738.30 A513.76,513.76 0 0 1 675.73,2633.25" fill="none" stroke="#fff" stroke-width="1.05"/><path d="M787.55,2765.10 A544.78,544.78 0 0 1 652.41,2653.70" fill="none" stroke="#fff" stroke-width="1.05"/><path d="M620.91,2664.62 A575.80,575.80 0 0 1 524.44,2500.85 L814.04,2389.68 A265.60,265.60 0 0 0 858.54,2465.22 Z" fill="#E5E5E5" stroke="#fff" stroke-width="3"/><path d="M833.95,2484.17 A296.62,296.62 0 0 1 785.55,2402.01" fill="none" stroke="#fff" stroke-width="1.05"/><path d="M810.10,2504.01 A327.64,327.64 0 0 1 756.64,2413.25" fill="none" stroke="#fff" stroke-width="1.05"/><path d="M786.25,2523.84 A358.66,358.66 0 0 1 727.73,2424.49" fill="none" stroke="#fff" stroke-width="1.05"/><path d="M762.40,2543.68 A389.68,389.68 0 0 1 698.82,2435.73" fill="none" stroke="#fff" stroke-width="1.05"/><path d="M738.55,2563.51 A420.70,420.70 0 0 1 669.90,2446.98" fill="none" stroke="#fff" stroke-width="1.05"/><path d="M714.70,2583.35 A451.72,451.72 0 0 1 640.99,2458.22" fill="none" stroke="#fff" stroke-width="1.05"/><path d="M690.85,2603.18 A482.74,482.74 0 0 1 612.08,2469.46" fill="none" stroke="#fff" stroke-width="1.05"/><path d="M667.00,2623.02 A513.76,513.76 0 0 1 583.17,2480.71" fill="none" stroke="#fff" stroke-width="1.05"/><path d="M643.15,2642.85 A544.78,544.78 0 0 1 554.26,2491.95" fill="none" stroke="#fff" stroke-width="1.05"/><path d="M520.92,2491.44 A575.80,575.80 0 0 1 486.29,2304.55 L796.44,2299.14 A265.60,265.60 0 0 0 812.42,2385.34 Z" fill="#E5E5E5" stroke="#fff" stroke-width="3"/><path d="M782.83,2394.73 A296.62,296.62 0 0 1 765.45,2300.97" fill="none" stroke="#fff" stroke-width="1.05"/><path d="M753.63,2405.22 A327.64,327.64 0 0 1 734.44,2301.65" fill="none" stroke="#fff" stroke-width="1.05"/><path d="M724.44,2415.70 A358.66,358.66 0 0 1 703.43,2302.32" fill="none" stroke="#fff" stroke-width="1.05"/><path d="M695.24,2426.18 A389.68,389.68 0 0 1 672.41,2303.00" fill="none" stroke="#fff" stroke-width="1.05"/><path d="M666.05,2436.66 A420.70,420.70 0 0 1 641.40,2303.68" fill="none" stroke="#fff" stroke-width="1.05"/><path d="M636.85,2447.14 A451.72,451.72 0 0 1 610.39,2304.35" fill="none" stroke="#fff" stroke-width="1.05"/><path d="M607.66,2457.63 A482.74,482.74 0 0 1 579.37,2305.03" fill="none" stroke="#fff" stroke-width="1.05"/><path d="M578.46,2468.11 A513.76,513.76 0 0 1 548.36,2305.71" fill="none" stroke="#fff" stroke-width="1.05"/><path d="M549.27,2478.59 A544.78,544.78 0 0 1 517.35,2306.38" fill="none" stroke="#fff" stroke-width="1.05"/><path d="M486.20,2294.50 A575.80,575.80 0 0 1 517.57,2107.04 L810.87,2208.03 A265.60,265.60 0 0 0 796.40,2294.50 Z" fill="#E5E5E5" stroke="#fff" stroke-width="3"/><path d="M765.38,2293.21 A296.62,296.62 0 0 1 781.12,2199.15" fill="none" stroke="#fff" stroke-width="1.05"/><path d="M734.36,2293.07 A327.64,327.64 0 0 1 751.75,2189.18" fill="none" stroke="#fff" stroke-width="1.05"/><path d="M703.34,2292.94 A358.66,358.66 0 0 1 722.37,2179.21" fill="none" stroke="#fff" stroke-width="1.05"/><path d="M672.32,2292.80 A389.68,389.68 0 0 1 693.00,2169.24" fill="none" stroke="#fff" stroke-width="1.05"/><path d="M641.30,2292.66 A420.70,420.70 0 0 1 663.63,2159.27" fill="none" stroke="#fff" stroke-width="1.05"/><path d="M610.28,2292.53 A451.72,451.72 0 0 1 634.25,2149.30" fill="none" stroke="#fff" stroke-width="1.05"/><path d="M579.26,2292.39 A482.74,482.74 0 0 1 604.88,2139.33" fill="none" stroke="#fff" stroke-width="1.05"/><path d="M548.24,2292.26 A513.76,513.76 0 0 1 575.51,2129.36" fill="none" stroke="#fff" stroke-width="1.05"/><path d="M517.23,2292.12 A544.78,544.78 0 0 1 546.13,2119.39" fill="none" stroke="#fff" stroke-width="1.05"/><path d="M520.92,2097.56 A575.80,575.80 0 0 1 614.52,1932.14 L855.59,2127.35 A265.60,265.60 0 0 0 812.42,2203.66 Z" fill="#E5E5E5" stroke="#fff" stroke-width="3"/><path d="M783.71,2191.83 A296.62,296.62 0 0 1 830.67,2108.84" fill="none" stroke="#fff" stroke-width="1.05"/><path d="M754.61,2181.10 A327.64,327.64 0 0 1 806.48,2089.42" fill="none" stroke="#fff" stroke-width="1.05"/><path d="M725.51,2170.36 A358.66,358.66 0 0 1 782.29,2070.01" fill="none" stroke="#fff" stroke-width="1.05"/><path d="M696.41,2159.63 A389.68,389.68 0 0 1 758.09,2050.59" fill="none" stroke="#fff" stroke-width="1.05"/><path d="M667.30,2148.89 A420.70,420.70 0 0 1 733.90,2031.17" fill="none" stroke="#fff" stroke-width="1.05"/><path d="M638.20,2138.15 A451.72,451.72 0 0 1 709.71,2011.76" fill="none" stroke="#fff" stroke-width="1.05"/><path d="M609.10,2127.42 A482.74,482.74 0 0 1 685.52,1992.34" fill="none" stroke="#fff" stroke-width="1.05"/><path d="M579.99,2116.68 A513.76,513.76 0 0 1 661.33,1972.93" fill="none" stroke="#fff" stroke-width="1.05"/><path d="M550.89,2105.94 A544.78,544.78 0 0 1 637.13,1953.51" fill="none" stroke="#fff" stroke-width="1.05"/><path d="M620.91,1924.38 A575.80,575.80 0 0 1 765.44,1800.94 L925.21,2066.84 A265.60,265.60 0 0 0 858.54,2123.78 Z" fill="#E5E5E5" stroke="#fff" stroke-width="3"/><path d="M835.61,2102.85 A296.62,296.62 0 0 1 908.12,2040.92" fill="none" stroke="#fff" stroke-width="1.05"/><path d="M811.93,2082.80 A327.64,327.64 0 0 1 892.03,2014.40" fill="none" stroke="#fff" stroke-width="1.05"/><path d="M788.26,2062.76 A358.66,358.66 0 0 1 875.94,1987.88" fill="none" stroke="#fff" stroke-width="1.05"/><path d="M764.58,2042.72 A389.68,389.68 0 0 1 859.84,1961.36" fill="none" stroke="#fff" stroke-width="1.05"/><path d="M740.91,2022.68 A420.70,420.70 0 0 1 843.75,1934.84" fill="none" stroke="#fff" stroke-width="1.05"/><path d="M717.23,2002.63 A451.72,451.72 0 0 1 827.66,1908.32" fill="none" stroke="#fff" stroke-width="1.05"/><path d="M693.56,1982.59 A482.74,482.74 0 0 1 811.57,1881.80" fill="none" stroke="#fff" stroke-width="1.05"/><path d="M669.88,1962.55 A513.76,513.76 0 0 1 795.48,1855.28" fill="none" stroke="#fff" stroke-width="1.05"/><path d="M646.21,1942.50 A544.78,544.78 0 0 1 779.38,1828.76" fill="none" stroke="#fff" stroke-width="1.05"/><path d="M774.10,1795.84 A575.80,575.80 0 0 1 952.13,1729.28 L1011.32,2033.78 A265.60,265.60 0 0 0 929.20,2064.48 Z" fill="#E5E5E5" stroke="#fff" stroke-width="3"/><path d="M914.81,2036.97 A296.62,296.62 0 0 1 1004.13,2003.58" fill="none" stroke="#fff" stroke-width="1.05"/><path d="M899.42,2010.04 A327.64,327.64 0 0 1 998.08,1973.16" fill="none" stroke="#fff" stroke-width="1.05"/><path d="M884.03,1983.11 A358.66,358.66 0 0 1 992.03,1942.73" fill="none" stroke="#fff" stroke-width="1.05"/><path d="M868.63,1956.18 A389.68,389.68 0 0 1 985.98,1912.31" fill="none" stroke="#fff" stroke-width="1.05"/><path d="M853.24,1929.25 A420.70,420.70 0 0 1 979.93,1881.88" fill="none" stroke="#fff" stroke-width="1.05"/><path d="M837.85,1902.32 A451.72,451.72 0 0 1 973.87,1851.46" fill="none" stroke="#fff" stroke-width="1.05"/><path d="M822.46,1875.39 A482.74,482.74 0 0 1 967.82,1821.04" fill="none" stroke="#fff" stroke-width="1.05"/><path d="M807.06,1848.45 A513.76,513.76 0 0 1 961.77,1790.61" fill="none" stroke="#fff" stroke-width="1.05"/><path d="M791.67,1821.52 A544.78,544.78 0 0 1 955.72,1760.19" fill="none" stroke="#fff" stroke-width="1.05"/><path d="M962.01,1727.45 A575.80,575.80 0 0 1 1152.07,1725.79 L1103.55,2032.17 A265.60,265.60 0 0 0 1015.88,2032.94 Z" fill="#E5E5E5" stroke="#fff" stroke-width="3"/><path d="M1011.77,2002.16 A296.62,296.62 0 0 1 1107.12,2001.33" fill="none" stroke="#fff" stroke-width="1.05"/><path d="M1006.51,1971.59 A327.64,327.64 0 0 1 1111.84,1970.67" fill="none" stroke="#fff" stroke-width="1.05"/><path d="M1001.26,1941.02 A358.66,358.66 0 0 1 1116.56,1940.01" fill="none" stroke="#fff" stroke-width="1.05"/><path d="M996.01,1910.45 A389.68,389.68 0 0 1 1121.28,1909.36" fill="none" stroke="#fff" stroke-width="1.05"/><path d="M990.75,1879.88 A420.70,420.70 0 0 1 1126.00,1878.70" fill="none" stroke="#fff" stroke-width="1.05"/><path d="M985.50,1849.30 A451.72,451.72 0 0 1 1130.72,1848.04" fill="none" stroke="#fff" stroke-width="1.05"/><path d="M980.25,1818.73 A482.74,482.74 0 0 1 1135.44,1817.38" fill="none" stroke="#fff" stroke-width="1.05"/><path d="M974.99,1788.16 A513.76,513.76 0 0 1 1140.15,1786.72" fill="none" stroke="#fff" stroke-width="1.05"/><path d="M969.74,1757.59 A544.78,544.78 0 0 1 1144.87,1756.06" fill="none" stroke="#fff" stroke-width="1.05"/><path d="M1161.99,1727.45 A575.80,575.80 0 0 1 1341.15,1790.89 L1190.77,2062.20 A265.60,265.60 0 0 0 1108.12,2032.94 Z" fill="#E5E5E5" stroke="#fff" stroke-width="3"/><path d="M1114.78,2002.61 A296.62,296.62 0 0 1 1204.67,2034.45" fill="none" stroke="#fff" stroke-width="1.05"/><path d="M1120.30,1972.09 A327.64,327.64 0 0 1 1219.59,2007.25" fill="none" stroke="#fff" stroke-width="1.05"/><path d="M1125.82,1941.56 A358.66,358.66 0 0 1 1234.51,1980.05" fill="none" stroke="#fff" stroke-width="1.05"/><path d="M1131.34,1911.04 A389.68,389.68 0 0 1 1249.43,1952.86" fill="none" stroke="#fff" stroke-width="1.05"/><path d="M1136.86,1880.51 A420.70,420.70 0 0 1 1264.35,1925.66" fill="none" stroke="#fff" stroke-width="1.05"/><path d="M1142.38,1849.99 A451.72,451.72 0 0 1 1279.27,1898.46" fill="none" stroke="#fff" stroke-width="1.05"/><path d="M1147.90,1819.46 A482.74,482.74 0 0 1 1294.19,1871.27" fill="none" stroke="#fff" stroke-width="1.05"/><path d="M1153.42,1788.94 A513.76,513.76 0 0 1 1309.11,1844.07" fill="none" stroke="#fff" stroke-width="1.05"/><path d="M1158.94,1758.41 A544.78,544.78 0 0 1 1324.03,1816.88" fill="none" stroke="#fff" stroke-width="1.05"/><path d="M1349.90,1795.84 A575.80,575.80 0 0 1 1496.56,1916.74 L1262.45,2120.25 A265.60,265.60 0 0 0 1194.80,2064.48 Z" fill="#E5E5E5" stroke="#fff" stroke-width="3"/><path d="M1211.43,2038.27 A296.62,296.62 0 0 1 1285.01,2098.92" fill="none" stroke="#fff" stroke-width="1.05"/><path d="M1227.06,2011.47 A327.64,327.64 0 0 1 1308.33,2078.47" fill="none" stroke="#fff" stroke-width="1.05"/><path d="M1242.68,1984.68 A358.66,358.66 0 0 1 1331.65,2058.02" fill="none" stroke="#fff" stroke-width="1.05"/><path d="M1258.31,1957.88 A389.68,389.68 0 0 1 1354.98,2037.57" fill="none" stroke="#fff" stroke-width="1.05"/><path d="M1273.94,1931.08 A420.70,420.70 0 0 1 1378.30,2017.11" fill="none" stroke="#fff" stroke-width="1.05"/><path d="M1289.56,1904.29 A451.72,451.72 0 0 1 1401.62,1996.66" fill="none" stroke="#fff" stroke-width="1.05"/><path d="M1305.19,1877.49 A482.74,482.74 0 0 1 1424.94,1976.21" fill="none" stroke="#fff" stroke-width="1.05"/><path d="M1320.82,1850.70 A513.76,513.76 0 0 1 1448.27,1955.75" fill="none" stroke="#fff" stroke-width="1.05"/><path d="M1336.45,1823.90 A544.78,544.78 0 0 1 1471.59,1935.30" fill="none" stroke="#fff" stroke-width="1.05"/><path d="M1503.09,1924.38 A575.80,575.80 0 0 1 1599.56,2088.15 L1309.96,2199.32 A265.60,265.60 0 0 0 1265.46,2123.78 Z" fill="#E5E5E5" stroke="#fff" stroke-width="3"/><path d="M1290.05,2104.83 A296.62,296.62 0 0 1 1338.45,2186.99" fill="none" stroke="#fff" stroke-width="1.05"/><path d="M1313.90,2084.99 A327.64,327.64 0 0 1 1367.36,2175.75" fill="none" stroke="#fff" stroke-width="1.05"/><path d="M1337.75,2065.16 A358.66,358.66 0 0 1 1396.27,2164.51" fill="none" stroke="#fff" stroke-width="1.05"/><path d="M1361.60,2045.32 A389.68,389.68 0 0 1 1425.18,2153.27" fill="none" stroke="#fff" stroke-width="1.05"/><path d="M1385.45,2025.49 A420.70,420.70 0 0 1 1454.10,2142.02" fill="none" stroke="#fff" stroke-width="1.05"/><path d="M1409.30,2005.65 A451.72,451.72 0 0 1 1483.01,2130.78" fill="none" stroke="#fff" stroke-width="1.05"/><path d="M1433.15,1985.82 A482.74,482.74 0 0 1 1511.92,2119.54" fill="none" stroke="#fff" stroke-width="1.05"/><path d="M1457.00,1965.98 A513.76,513.76 0 0 1 1540.83,2108.29" fill="none" stroke="#fff" stroke-width="1.05"/><path d="M1480.85,1946.15 A544.78,544.78 0 0 1 1569.74,2097.05" fill="none" stroke="#fff" stroke-width="1.05"/><path d="M1603.08,2097.56 A575.80,575.80 0 0 1 1637.71,2284.45 L1327.56,2289.86 A265.60,265.60 0 0 0 1311.58,2203.66 Z" fill="#E5E5E5" stroke="#fff" stroke-width="3"/><path d="M1341.17,2194.27 A296.62,296.62 0 0 1 1358.55,2288.03" fill="none" stroke="#fff" stroke-width="1.05"/><path d="M1370.37,2183.78 A327.64,327.64 0 0 1 1389.56,2287.35" fill="none" stroke="#fff" stroke-width="1.05"/><path d="M1399.56,2173.30 A358.66,358.66 0 0 1 1420.57,2286.68" fill="none" stroke="#fff" stroke-width="1.05"/><path d="M1428.76,2162.82 A389.68,389.68 0 0 1 1451.59,2286.00" fill="none" stroke="#fff" stroke-width="1.05"/><path d="M1457.95,2152.34 A420.70,420.70 0 0 1 1482.60,2285.32" fill="none" stroke="#fff" stroke-width="1.05"/><path d="M1487.15,2141.86 A451.72,451.72 0 0 1 1513.61,2284.65" fill="none" stroke="#fff" stroke-width="1.05"/><path d="M1516.34,2131.37 A482.74,482.74 0 0 1 1544.63,2283.97" fill="none" stroke="#fff" stroke-width="1.05"/><path d="M1545.54,2120.89 A513.76,513.76 0 0 1 1575.64,2283.29" fill="none" stroke="#fff" stroke-width="1.05"/><path d="M1574.73,2110.41 A544.78,544.78 0 0 1 1606.65,2282.62" fill="none" stroke="#fff" stroke-width="1.05"/><path d="M1534.99,2294.50 A472.99,472.99 0 0 1 1509.22,2448.49 L1328.07,2386.11 A281.40,281.40 0 0 0 1343.40,2294.50 Z" fill="#00A6B3" stroke="#00A6B3" stroke-width="1.2"/><path d="M1423.87,2426.21 A385.10,385.10 0 0 1 1361.28,2536.85 L1280.69,2471.59 A281.40,281.40 0 0 0 1326.43,2390.74 Z" fill="#00A6B3" stroke="#00A6B3" stroke-width="1.2"/><path d="M1338.46,2526.48 A360.89,360.89 0 0 1 1247.87,2603.84 L1206.93,2535.71 A281.40,281.40 0 0 0 1277.56,2475.38 Z" fill="#00A6B3" stroke="#00A6B3" stroke-width="1.2"/><path d="M1244.94,2611.35 A365.87,365.87 0 0 1 1131.81,2653.65 L1115.69,2570.73 A281.40,281.40 0 0 0 1202.70,2538.20 Z" fill="#00A6B3" stroke="#00A6B3" stroke-width="1.2"/><path d="M1128.49,2671.60 A382.92,382.92 0 0 1 1002.10,2672.71 L1017.98,2572.44 A281.40,281.40 0 0 0 1110.86,2571.62 Z" fill="#00A6B3" stroke="#00A6B3" stroke-width="1.2"/><path d="M998.43,2655.03 A366.10,366.10 0 0 1 884.51,2614.69 L925.57,2540.62 A281.40,281.40 0 0 0 1013.14,2571.62 Z" fill="#00A6B3" stroke="#00A6B3" stroke-width="1.2"/><path d="M789.13,2767.13 A545.74,545.74 0 0 1 650.12,2652.54 L849.62,2479.12 A281.40,281.40 0 0 0 921.30,2538.20 Z" fill="#EBB400" stroke="#EBB400" stroke-width="1.2"/><path d="M732.66,2570.85 A429.92,429.92 0 0 1 660.64,2448.57 L799.29,2395.34 A281.40,281.40 0 0 0 846.44,2475.38 Z" fill="#EBB400" stroke="#EBB400" stroke-width="1.2"/><path d="M716.88,2420.11 A367.27,367.27 0 0 1 694.79,2300.91 L780.64,2299.41 A281.40,281.40 0 0 0 797.57,2390.74 Z" fill="#EBB400" stroke="#EBB400" stroke-width="1.2"/><path d="M736.23,2294.50 A325.77,325.77 0 0 1 753.98,2188.44 L795.93,2202.89 A281.40,281.40 0 0 0 780.60,2294.50 Z" fill="#EBB400" stroke="#EBB400" stroke-width="1.2"/><path d="M616.41,2132.32 A474.19,474.19 0 0 1 693.49,1996.08 L843.31,2117.41 A281.40,281.40 0 0 0 797.57,2198.26 Z" fill="#EBB400" stroke="#EBB400" stroke-width="1.2"/><path d="M698.75,1989.70 A474.19,474.19 0 0 1 817.77,1888.04 L917.07,2053.29 A281.40,281.40 0 0 0 846.44,2113.62 Z" fill="#EBB400" stroke="#EBB400" stroke-width="1.2"/><path d="M887.13,1991.62 A349.73,349.73 0 0 1 995.27,1951.19 L1008.31,2018.27 A281.40,281.40 0 0 0 921.30,2050.80 Z" fill="#79CD89" stroke="#79CD89" stroke-width="1.2"/><path d="M993.93,1908.46 A391.99,391.99 0 0 1 1123.32,1907.33 L1106.02,2016.56 A281.40,281.40 0 0 0 1013.14,2017.38 Z" fill="#79CD89" stroke="#79CD89" stroke-width="1.2"/><path d="M1129.16,1913.64 A386.74,386.74 0 0 1 1249.50,1956.25 L1198.43,2048.38 A281.40,281.40 0 0 0 1110.86,2017.38 Z" fill="#79CD89" stroke="#79CD89" stroke-width="1.2"/><path d="M1245.99,1975.82 A367.98,367.98 0 0 1 1339.72,2053.08 L1274.38,2109.88 A281.40,281.40 0 0 0 1202.70,2050.80 Z" fill="#79CD89" stroke="#79CD89" stroke-width="1.2"/><path d="M1351.66,2051.45 A378.12,378.12 0 0 1 1415.01,2158.99 L1324.71,2193.66 A281.40,281.40 0 0 0 1277.56,2113.62 Z" fill="#79CD89" stroke="#79CD89" stroke-width="1.2"/><path d="M1449.79,2153.36 A412.67,412.67 0 0 1 1474.61,2287.30 L1343.36,2289.59 A281.40,281.40 0 0 0 1326.43,2198.26 Z" fill="#79CD89" stroke="#79CD89" stroke-width="1.2"/><rect x="884.6" y="2239.60" width="35" height="35" fill="#ECEAEB"/><rect x="891.2" y="2245.30" width="22.5" height="22.5" fill="#FFC0CB"/><text x="930" y="2268.00" font-size="33">Number of Genes</text><rect x="884.6" y="2276.90" width="35" height="35" fill="#ECEAEB"/><rect x="891.2" y="2282.60" width="22.5" height="22.5" fill="#A45AA5"/><text x="930" y="2305.20" font-size="33">Number of Select</text><rect x="884.6" y="2314.20" width="35" height="35" fill="#ECEAEB"/><path d="M902.4,2316.70 L914.5,2339.20 L890.3,2339.20 Z" fill="#00A6B3"/><text x="930" y="2342.40" font-size="33">Rich Factor(0−1)</text><text x="1842" y="1402.5" font-size="32.5" font-weight="bold" textLength="190" lengthAdjust="spacingAndGlyphs">ONTOLOGY</text><rect x="1763" y="1424.00" width="44" height="44" fill="#ECEAEB"/><rect x="1774" y="1435.00" width="23" height="22" fill="#00A6B3"/><text x="1819" y="1456.25" font-size="33">Biological Process</text><rect x="1763" y="1471.20" width="44" height="44" fill="#ECEAEB"/><rect x="1774" y="1482.20" width="23" height="22" fill="#EBB400"/><text x="1819" y="1503.75" font-size="33">Cellular Component</text><rect x="1763" y="1518.40" width="44" height="44" fill="#ECEAEB"/><rect x="1774" y="1529.40" width="23" height="22" fill="#79CD89"/><text x="1819" y="1551.25" font-size="33">Molecular Function</text><text x="1877" y="2816" font-size="33" font-weight="bold">−log10(Pvalue)</text><rect x="1917" y="2835.80" width="42" height="44" fill="#ECEAEB"/><circle cx="1938" cy="2857.80" r="11" fill="#FFF4EF"/><text x="1972" y="2869.40" font-size="33">(0,2]</text><rect x="1917" y="2883.50" width="42" height="44" fill="#ECEAEB"/><circle cx="1938" cy="2905.50" r="11" fill="#FEDFD2"/><text x="1972" y="2917.10" font-size="33">(2,4]</text><rect x="1917" y="2931.20" width="42" height="44" fill="#ECEAEB"/><circle cx="1938" cy="2953.20" r="11" fill="#FCBA9F"/><text x="1972" y="2964.80" font-size="33">(4,6]</text><rect x="1917" y="2978.90" width="42" height="44" fill="#ECEAEB"/><circle cx="1938" cy="3000.90" r="11" fill="#FC9070"/><text x="1972" y="3012.50" font-size="33">(6,8]</text><rect x="1917" y="3026.60" width="42" height="44" fill="#ECEAEB"/><circle cx="1938" cy="3048.60" r="11" fill="#FB6A4A"/><text x="1972" y="3060.20" font-size="33">(8,10]</text><rect x="1917" y="3074.30" width="42" height="44" fill="#ECEAEB"/><circle cx="1938" cy="3096.30" r="11" fill="#F93A2B"/><text x="1972" y="3107.90" font-size="33">(10,15]</text><rect x="1917" y="3122.00" width="42" height="44" fill="#ECEAEB"/><circle cx="1938" cy="3144.00" r="11" fill="#D9181E"/><text x="1972" y="3155.60" font-size="33">(15,20]</text><rect x="1917" y="3169.70" width="42" height="44" fill="#ECEAEB"/><circle cx="1938" cy="3191.70" r="11" fill="#A3141C"/><text x="1972" y="3203.30" font-size="33">&gt;=20</text><text x="44.5" y="84" font-size="58" fill="#231815">A</text><text x="960.5" y="84.5" font-size="58" fill="#231815" textLength="37.6" lengthAdjust="spacingAndGlyphs">C</text><text x="42.5" y="1428" font-size="58" fill="#231815" textLength="35.8" lengthAdjust="spacingAndGlyphs">B</text></svg></body></html>
